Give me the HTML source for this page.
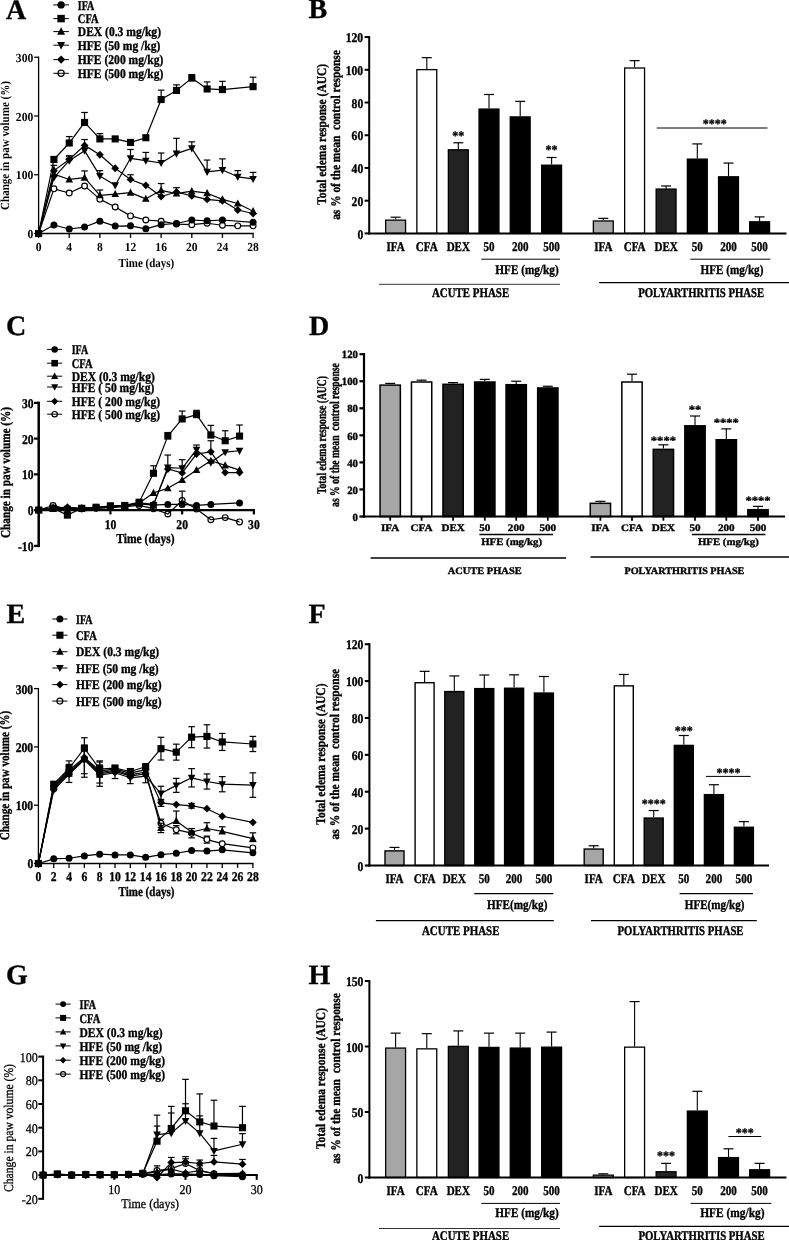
<!DOCTYPE html>
<html><head><meta charset="utf-8"><title>Figure</title>
<style>html,body{margin:0;padding:0;background:#fff}svg{display:block;will-change:transform}</style></head>
<body><svg width="789" height="1240" viewBox="0 0 789 1240" font-family="'Liberation Serif', serif" fill="#000" text-rendering="geometricPrecision">
<rect x="0" y="0" width="789" height="1240" fill="#fff"/>
<line x1="38.60" y1="56.60" x2="38.60" y2="234.15" stroke="#000" stroke-width="1.3" stroke-linecap="butt"/>
<line x1="37.95" y1="233.50" x2="253.73" y2="233.50" stroke="#000" stroke-width="1.3" stroke-linecap="butt"/>
<line x1="34.20" y1="233.50" x2="38.60" y2="233.50" stroke="#000" stroke-width="1.3" stroke-linecap="butt"/>
<line x1="34.20" y1="174.75" x2="38.60" y2="174.75" stroke="#000" stroke-width="1.3" stroke-linecap="butt"/>
<line x1="34.20" y1="116.00" x2="38.60" y2="116.00" stroke="#000" stroke-width="1.3" stroke-linecap="butt"/>
<line x1="34.20" y1="57.25" x2="38.60" y2="57.25" stroke="#000" stroke-width="1.3" stroke-linecap="butt"/>
<line x1="38.60" y1="233.50" x2="38.60" y2="237.90" stroke="#000" stroke-width="1.3" stroke-linecap="butt"/>
<line x1="69.24" y1="233.50" x2="69.24" y2="237.90" stroke="#000" stroke-width="1.3" stroke-linecap="butt"/>
<line x1="99.88" y1="233.50" x2="99.88" y2="237.90" stroke="#000" stroke-width="1.3" stroke-linecap="butt"/>
<line x1="130.52" y1="233.50" x2="130.52" y2="237.90" stroke="#000" stroke-width="1.3" stroke-linecap="butt"/>
<line x1="161.16" y1="233.50" x2="161.16" y2="237.90" stroke="#000" stroke-width="1.3" stroke-linecap="butt"/>
<line x1="191.80" y1="233.50" x2="191.80" y2="237.90" stroke="#000" stroke-width="1.3" stroke-linecap="butt"/>
<line x1="222.44" y1="233.50" x2="222.44" y2="237.90" stroke="#000" stroke-width="1.3" stroke-linecap="butt"/>
<line x1="253.08" y1="233.50" x2="253.08" y2="237.90" stroke="#000" stroke-width="1.3" stroke-linecap="butt"/>
<text x="33.30" y="238.12" font-size="12.3" font-weight="bold" text-anchor="end" textLength="5.8" lengthAdjust="spacingAndGlyphs" >0</text>
<text x="33.30" y="179.37" font-size="12.3" font-weight="bold" text-anchor="end" textLength="17.5" lengthAdjust="spacingAndGlyphs" >100</text>
<text x="33.30" y="120.62" font-size="12.3" font-weight="bold" text-anchor="end" textLength="17.5" lengthAdjust="spacingAndGlyphs" >200</text>
<text x="33.30" y="61.87" font-size="12.3" font-weight="bold" text-anchor="end" textLength="17.5" lengthAdjust="spacingAndGlyphs" >300</text>
<text x="38.60" y="251.02" font-size="12.3" font-weight="bold" text-anchor="middle" textLength="5.8" lengthAdjust="spacingAndGlyphs" >0</text>
<text x="69.24" y="251.02" font-size="12.3" font-weight="bold" text-anchor="middle" textLength="5.8" lengthAdjust="spacingAndGlyphs" >4</text>
<text x="99.88" y="251.02" font-size="12.3" font-weight="bold" text-anchor="middle" textLength="5.8" lengthAdjust="spacingAndGlyphs" >8</text>
<text x="130.52" y="251.02" font-size="12.3" font-weight="bold" text-anchor="middle" textLength="11.6" lengthAdjust="spacingAndGlyphs" >12</text>
<text x="161.16" y="251.02" font-size="12.3" font-weight="bold" text-anchor="middle" textLength="11.6" lengthAdjust="spacingAndGlyphs" >16</text>
<text x="191.80" y="251.02" font-size="12.3" font-weight="bold" text-anchor="middle" textLength="11.6" lengthAdjust="spacingAndGlyphs" >20</text>
<text x="222.44" y="251.02" font-size="12.3" font-weight="bold" text-anchor="middle" textLength="11.6" lengthAdjust="spacingAndGlyphs" >24</text>
<text x="253.08" y="251.02" font-size="12.3" font-weight="bold" text-anchor="middle" textLength="11.6" lengthAdjust="spacingAndGlyphs" >28</text>
<text x="146.40" y="266.55" font-size="12.4" font-weight="bold" text-anchor="middle" textLength="55.8" lengthAdjust="spacingAndGlyphs" >Time (days)</text>
<text x="8.60" y="145.50" font-size="12.4" font-weight="bold" text-anchor="middle" transform="rotate(-90 8.60 145.50)" textLength="129.0" lengthAdjust="spacingAndGlyphs" >Change in paw volume (%)</text>
<text x="6.00" y="19.00" font-size="28" font-weight="bold" text-anchor="start" stroke="#000" stroke-width="0.35" >A</text>
<line x1="53.30" y1="4.90" x2="68.90" y2="4.90" stroke="#000" stroke-width="1.0" stroke-linecap="butt"/>
<circle cx="61.10" cy="4.90" r="3.67" fill="#000"/>
<text x="77.80" y="9.62" font-size="13.2" font-weight="bold" text-anchor="start" stroke="#000" stroke-width="0.35" textLength="16.5" lengthAdjust="spacingAndGlyphs" >IFA</text>
<line x1="53.30" y1="18.60" x2="68.90" y2="18.60" stroke="#000" stroke-width="1.0" stroke-linecap="butt"/>
<rect x="57.37" y="14.87" width="7.45" height="7.45" fill="#000"/>
<text x="77.80" y="23.32" font-size="13.2" font-weight="bold" text-anchor="start" stroke="#000" stroke-width="0.35" textLength="20.8" lengthAdjust="spacingAndGlyphs" >CFA</text>
<line x1="53.30" y1="31.60" x2="68.90" y2="31.60" stroke="#000" stroke-width="1.0" stroke-linecap="butt"/>
<polygon points="61.10,27.28 65.10,34.73 57.10,34.73" fill="#000"/>
<text x="77.80" y="36.32" font-size="13.2" font-weight="bold" text-anchor="start" stroke="#000" stroke-width="0.35" textLength="83.2" lengthAdjust="spacingAndGlyphs" >DEX (0.3 mg/kg)</text>
<line x1="53.30" y1="45.20" x2="68.90" y2="45.20" stroke="#000" stroke-width="1.0" stroke-linecap="butt"/>
<polygon points="61.10,49.52 65.10,42.07 57.10,42.07" fill="#000"/>
<text x="77.80" y="49.92" font-size="13.2" font-weight="bold" text-anchor="start" stroke="#000" stroke-width="0.35" textLength="82.6" lengthAdjust="spacingAndGlyphs" >HFE (50 mg /kg)</text>
<line x1="53.30" y1="59.60" x2="68.90" y2="59.60" stroke="#000" stroke-width="1.0" stroke-linecap="butt"/>
<polygon points="61.10,55.50 65.20,59.60 61.10,63.70 57.00,59.60" fill="#000"/>
<text x="77.80" y="64.32" font-size="13.2" font-weight="bold" text-anchor="start" stroke="#000" stroke-width="0.35" textLength="85.5" lengthAdjust="spacingAndGlyphs" >HFE (200 mg/kg)</text>
<circle cx="61.10" cy="73.30" r="3.08" fill="#fff" stroke="#000" stroke-width="1.2"/>
<line x1="53.30" y1="73.30" x2="68.90" y2="73.30" stroke="#000" stroke-width="1.0" stroke-linecap="butt"/>
<text x="77.80" y="78.02" font-size="13.2" font-weight="bold" text-anchor="start" stroke="#000" stroke-width="0.35" textLength="85.5" lengthAdjust="spacingAndGlyphs" >HFE (500 mg/kg)</text>
<polyline fill="none" stroke="#000" stroke-width="1.2" stroke-linejoin="round" points="38.60,233.50 53.92,188.85 69.24,192.96 84.56,185.91 99.88,199.13 115.20,207.06 130.52,215.88 145.84,219.99 161.16,221.16 176.48,224.10 191.80,224.69 207.12,223.22 222.44,225.28 237.76,225.86 253.08,225.86"/>
<circle cx="38.60" cy="233.50" r="2.88" fill="#fff" stroke="#000" stroke-width="1.2"/>
<circle cx="53.92" cy="188.85" r="2.88" fill="#fff" stroke="#000" stroke-width="1.2"/>
<circle cx="69.24" cy="192.96" r="2.88" fill="#fff" stroke="#000" stroke-width="1.2"/>
<circle cx="84.56" cy="185.91" r="2.88" fill="#fff" stroke="#000" stroke-width="1.2"/>
<circle cx="99.88" cy="199.13" r="2.88" fill="#fff" stroke="#000" stroke-width="1.2"/>
<circle cx="115.20" cy="207.06" r="2.88" fill="#fff" stroke="#000" stroke-width="1.2"/>
<circle cx="130.52" cy="215.88" r="2.88" fill="#fff" stroke="#000" stroke-width="1.2"/>
<circle cx="145.84" cy="219.99" r="2.88" fill="#fff" stroke="#000" stroke-width="1.2"/>
<circle cx="161.16" cy="221.16" r="2.88" fill="#fff" stroke="#000" stroke-width="1.2"/>
<circle cx="176.48" cy="224.10" r="2.88" fill="#fff" stroke="#000" stroke-width="1.2"/>
<circle cx="191.80" cy="224.69" r="2.88" fill="#fff" stroke="#000" stroke-width="1.2"/>
<circle cx="207.12" cy="223.22" r="2.88" fill="#fff" stroke="#000" stroke-width="1.2"/>
<circle cx="222.44" cy="225.28" r="2.88" fill="#fff" stroke="#000" stroke-width="1.2"/>
<circle cx="237.76" cy="225.86" r="2.88" fill="#fff" stroke="#000" stroke-width="1.2"/>
<circle cx="253.08" cy="225.86" r="2.88" fill="#fff" stroke="#000" stroke-width="1.2"/>
<line x1="53.92" y1="170.64" x2="53.92" y2="165.35" stroke="#000" stroke-width="1.2" stroke-linecap="butt"/>
<line x1="50.62" y1="165.35" x2="57.22" y2="165.35" stroke="#000" stroke-width="1.2" stroke-linecap="butt"/>
<line x1="69.24" y1="159.47" x2="69.24" y2="155.95" stroke="#000" stroke-width="1.2" stroke-linecap="butt"/>
<line x1="65.94" y1="155.95" x2="72.54" y2="155.95" stroke="#000" stroke-width="1.2" stroke-linecap="butt"/>
<line x1="84.56" y1="145.38" x2="84.56" y2="139.50" stroke="#000" stroke-width="1.2" stroke-linecap="butt"/>
<line x1="81.26" y1="139.50" x2="87.86" y2="139.50" stroke="#000" stroke-width="1.2" stroke-linecap="butt"/>
<line x1="130.52" y1="179.45" x2="130.52" y2="174.75" stroke="#000" stroke-width="1.2" stroke-linecap="butt"/>
<line x1="127.22" y1="174.75" x2="133.82" y2="174.75" stroke="#000" stroke-width="1.2" stroke-linecap="butt"/>
<polyline fill="none" stroke="#000" stroke-width="1.2" stroke-linejoin="round" points="38.60,233.50 53.92,170.64 69.24,159.47 84.56,145.38 99.88,154.77 115.20,168.29 130.52,179.45 145.84,185.32 161.16,196.49 176.48,192.02 191.80,195.90 207.12,199.43 222.44,200.84 237.76,210.00 253.08,213.53"/>
<polygon points="38.60,229.59 42.51,233.50 38.60,237.41 34.69,233.50" fill="#000"/>
<polygon points="53.92,166.72 57.83,170.64 53.92,174.55 50.01,170.64" fill="#000"/>
<polygon points="69.24,155.56 73.15,159.47 69.24,163.39 65.33,159.47" fill="#000"/>
<polygon points="84.56,141.46 88.47,145.38 84.56,149.29 80.65,145.38" fill="#000"/>
<polygon points="99.88,150.86 103.79,154.77 99.88,158.69 95.97,154.77" fill="#000"/>
<polygon points="115.20,164.37 119.11,168.29 115.20,172.20 111.29,168.29" fill="#000"/>
<polygon points="130.52,175.54 134.43,179.45 130.52,183.36 126.61,179.45" fill="#000"/>
<polygon points="145.84,181.41 149.75,185.32 145.84,189.24 141.93,185.32" fill="#000"/>
<polygon points="161.16,192.57 165.07,196.49 161.16,200.40 157.25,196.49" fill="#000"/>
<polygon points="176.48,188.11 180.39,192.02 176.48,195.94 172.57,192.02" fill="#000"/>
<polygon points="191.80,191.99 195.71,195.90 191.80,199.81 187.89,195.90" fill="#000"/>
<polygon points="207.12,195.51 211.03,199.43 207.12,203.34 203.21,199.43" fill="#000"/>
<polygon points="222.44,196.92 226.35,200.84 222.44,204.75 218.53,200.84" fill="#000"/>
<polygon points="237.76,206.09 241.67,210.00 237.76,213.91 233.85,210.00" fill="#000"/>
<polygon points="253.08,209.61 256.99,213.53 253.08,217.44 249.17,213.53" fill="#000"/>
<line x1="69.24" y1="160.65" x2="69.24" y2="155.95" stroke="#000" stroke-width="1.2" stroke-linecap="butt"/>
<line x1="65.94" y1="155.95" x2="72.54" y2="155.95" stroke="#000" stroke-width="1.2" stroke-linecap="butt"/>
<line x1="99.88" y1="175.93" x2="99.88" y2="170.64" stroke="#000" stroke-width="1.2" stroke-linecap="butt"/>
<line x1="96.58" y1="170.64" x2="103.18" y2="170.64" stroke="#000" stroke-width="1.2" stroke-linecap="butt"/>
<line x1="130.52" y1="158.30" x2="130.52" y2="149.49" stroke="#000" stroke-width="1.2" stroke-linecap="butt"/>
<line x1="127.22" y1="149.49" x2="133.82" y2="149.49" stroke="#000" stroke-width="1.2" stroke-linecap="butt"/>
<line x1="145.84" y1="160.65" x2="145.84" y2="152.43" stroke="#000" stroke-width="1.2" stroke-linecap="butt"/>
<line x1="142.54" y1="152.43" x2="149.14" y2="152.43" stroke="#000" stroke-width="1.2" stroke-linecap="butt"/>
<line x1="161.16" y1="163.00" x2="161.16" y2="153.01" stroke="#000" stroke-width="1.2" stroke-linecap="butt"/>
<line x1="157.86" y1="153.01" x2="164.46" y2="153.01" stroke="#000" stroke-width="1.2" stroke-linecap="butt"/>
<line x1="176.48" y1="153.60" x2="176.48" y2="138.32" stroke="#000" stroke-width="1.2" stroke-linecap="butt"/>
<line x1="173.18" y1="138.32" x2="179.78" y2="138.32" stroke="#000" stroke-width="1.2" stroke-linecap="butt"/>
<line x1="191.80" y1="148.31" x2="191.80" y2="141.85" stroke="#000" stroke-width="1.2" stroke-linecap="butt"/>
<line x1="188.50" y1="141.85" x2="195.10" y2="141.85" stroke="#000" stroke-width="1.2" stroke-linecap="butt"/>
<line x1="207.12" y1="171.81" x2="207.12" y2="160.06" stroke="#000" stroke-width="1.2" stroke-linecap="butt"/>
<line x1="203.82" y1="160.06" x2="210.42" y2="160.06" stroke="#000" stroke-width="1.2" stroke-linecap="butt"/>
<line x1="222.44" y1="170.05" x2="222.44" y2="158.89" stroke="#000" stroke-width="1.2" stroke-linecap="butt"/>
<line x1="219.14" y1="158.89" x2="225.74" y2="158.89" stroke="#000" stroke-width="1.2" stroke-linecap="butt"/>
<line x1="237.76" y1="176.81" x2="237.76" y2="170.64" stroke="#000" stroke-width="1.2" stroke-linecap="butt"/>
<line x1="234.46" y1="170.64" x2="241.06" y2="170.64" stroke="#000" stroke-width="1.2" stroke-linecap="butt"/>
<line x1="253.08" y1="178.86" x2="253.08" y2="172.40" stroke="#000" stroke-width="1.2" stroke-linecap="butt"/>
<line x1="249.78" y1="172.40" x2="256.38" y2="172.40" stroke="#000" stroke-width="1.2" stroke-linecap="butt"/>
<polyline fill="none" stroke="#000" stroke-width="1.2" stroke-linejoin="round" points="38.60,233.50 53.92,177.69 69.24,160.65 84.56,150.66 99.88,175.93 115.20,185.32 130.52,158.30 145.84,160.65 161.16,163.00 176.48,153.60 191.80,148.31 207.12,171.81 222.44,170.05 237.76,176.81 253.08,178.86"/>
<polygon points="38.60,237.62 42.41,230.51 34.79,230.51" fill="#000"/>
<polygon points="53.92,181.81 57.73,174.70 50.11,174.70" fill="#000"/>
<polygon points="69.24,164.77 73.05,157.66 65.43,157.66" fill="#000"/>
<polygon points="84.56,154.78 88.37,147.68 80.75,147.68" fill="#000"/>
<polygon points="99.88,180.05 103.69,172.94 96.07,172.94" fill="#000"/>
<polygon points="115.20,189.44 119.01,182.34 111.39,182.34" fill="#000"/>
<polygon points="130.52,162.42 134.33,155.31 126.71,155.31" fill="#000"/>
<polygon points="145.84,164.77 149.65,157.66 142.03,157.66" fill="#000"/>
<polygon points="161.16,167.12 164.97,160.01 157.35,160.01" fill="#000"/>
<polygon points="176.48,157.72 180.29,150.61 172.67,150.61" fill="#000"/>
<polygon points="191.80,152.43 195.61,145.33 187.99,145.33" fill="#000"/>
<polygon points="207.12,175.93 210.93,168.83 203.31,168.83" fill="#000"/>
<polygon points="222.44,174.17 226.25,167.06 218.63,167.06" fill="#000"/>
<polygon points="237.76,180.93 241.57,173.82 233.95,173.82" fill="#000"/>
<polygon points="253.08,182.98 256.89,175.88 249.27,175.88" fill="#000"/>
<line x1="84.56" y1="177.69" x2="84.56" y2="170.93" stroke="#000" stroke-width="1.2" stroke-linecap="butt"/>
<line x1="81.26" y1="170.93" x2="87.86" y2="170.93" stroke="#000" stroke-width="1.2" stroke-linecap="butt"/>
<line x1="99.88" y1="195.31" x2="99.88" y2="190.03" stroke="#000" stroke-width="1.2" stroke-linecap="butt"/>
<line x1="96.58" y1="190.03" x2="103.18" y2="190.03" stroke="#000" stroke-width="1.2" stroke-linecap="butt"/>
<line x1="161.16" y1="190.32" x2="161.16" y2="183.56" stroke="#000" stroke-width="1.2" stroke-linecap="butt"/>
<line x1="157.86" y1="183.56" x2="164.46" y2="183.56" stroke="#000" stroke-width="1.2" stroke-linecap="butt"/>
<line x1="176.48" y1="193.55" x2="176.48" y2="187.68" stroke="#000" stroke-width="1.2" stroke-linecap="butt"/>
<line x1="173.18" y1="187.68" x2="179.78" y2="187.68" stroke="#000" stroke-width="1.2" stroke-linecap="butt"/>
<polyline fill="none" stroke="#000" stroke-width="1.2" stroke-linejoin="round" points="38.60,233.50 53.92,174.16 69.24,179.45 84.56,177.69 99.88,195.31 115.20,194.14 130.52,192.67 145.84,198.84 161.16,190.32 176.48,193.55 191.80,191.20 207.12,193.20 222.44,199.43 237.76,203.54 253.08,211.18"/>
<polygon points="38.60,229.38 42.41,236.49 34.79,236.49" fill="#000"/>
<polygon points="53.92,170.04 57.73,177.15 50.11,177.15" fill="#000"/>
<polygon points="69.24,175.33 73.05,182.44 65.43,182.44" fill="#000"/>
<polygon points="84.56,173.57 88.37,180.67 80.75,180.67" fill="#000"/>
<polygon points="99.88,191.19 103.69,198.30 96.07,198.30" fill="#000"/>
<polygon points="115.20,190.02 119.01,197.12 111.39,197.12" fill="#000"/>
<polygon points="130.52,188.55 134.33,195.66 126.71,195.66" fill="#000"/>
<polygon points="145.84,194.72 149.65,201.82 142.03,201.82" fill="#000"/>
<polygon points="161.16,186.20 164.97,193.31 157.35,193.31" fill="#000"/>
<polygon points="176.48,189.43 180.29,196.54 172.67,196.54" fill="#000"/>
<polygon points="191.80,187.08 195.61,194.19 187.99,194.19" fill="#000"/>
<polygon points="207.12,189.08 210.93,196.18 203.31,196.18" fill="#000"/>
<polygon points="222.44,195.31 226.25,202.41 218.63,202.41" fill="#000"/>
<polygon points="237.76,199.42 241.57,206.52 233.95,206.52" fill="#000"/>
<polygon points="253.08,207.06 256.89,214.16 249.27,214.16" fill="#000"/>
<line x1="53.92" y1="159.47" x2="53.92" y2="156.54" stroke="#000" stroke-width="1.2" stroke-linecap="butt"/>
<line x1="50.62" y1="156.54" x2="57.22" y2="156.54" stroke="#000" stroke-width="1.2" stroke-linecap="butt"/>
<line x1="69.24" y1="143.02" x2="69.24" y2="136.56" stroke="#000" stroke-width="1.2" stroke-linecap="butt"/>
<line x1="65.94" y1="136.56" x2="72.54" y2="136.56" stroke="#000" stroke-width="1.2" stroke-linecap="butt"/>
<line x1="84.56" y1="122.46" x2="84.56" y2="112.47" stroke="#000" stroke-width="1.2" stroke-linecap="butt"/>
<line x1="81.26" y1="112.47" x2="87.86" y2="112.47" stroke="#000" stroke-width="1.2" stroke-linecap="butt"/>
<line x1="99.88" y1="138.91" x2="99.88" y2="133.62" stroke="#000" stroke-width="1.2" stroke-linecap="butt"/>
<line x1="96.58" y1="133.62" x2="103.18" y2="133.62" stroke="#000" stroke-width="1.2" stroke-linecap="butt"/>
<line x1="161.16" y1="99.55" x2="161.16" y2="90.15" stroke="#000" stroke-width="1.2" stroke-linecap="butt"/>
<line x1="157.86" y1="90.15" x2="164.46" y2="90.15" stroke="#000" stroke-width="1.2" stroke-linecap="butt"/>
<line x1="176.48" y1="90.44" x2="176.48" y2="84.86" stroke="#000" stroke-width="1.2" stroke-linecap="butt"/>
<line x1="173.18" y1="84.86" x2="179.78" y2="84.86" stroke="#000" stroke-width="1.2" stroke-linecap="butt"/>
<line x1="191.80" y1="78.11" x2="191.80" y2="74.58" stroke="#000" stroke-width="1.2" stroke-linecap="butt"/>
<line x1="188.50" y1="74.58" x2="195.10" y2="74.58" stroke="#000" stroke-width="1.2" stroke-linecap="butt"/>
<line x1="207.12" y1="88.97" x2="207.12" y2="81.92" stroke="#000" stroke-width="1.2" stroke-linecap="butt"/>
<line x1="203.82" y1="81.92" x2="210.42" y2="81.92" stroke="#000" stroke-width="1.2" stroke-linecap="butt"/>
<line x1="222.44" y1="89.56" x2="222.44" y2="81.34" stroke="#000" stroke-width="1.2" stroke-linecap="butt"/>
<line x1="219.14" y1="81.34" x2="225.74" y2="81.34" stroke="#000" stroke-width="1.2" stroke-linecap="butt"/>
<line x1="253.08" y1="86.62" x2="253.08" y2="77.22" stroke="#000" stroke-width="1.2" stroke-linecap="butt"/>
<line x1="249.78" y1="77.22" x2="256.38" y2="77.22" stroke="#000" stroke-width="1.2" stroke-linecap="butt"/>
<polyline fill="none" stroke="#000" stroke-width="1.2" stroke-linejoin="round" points="38.60,233.50 53.92,159.47 69.24,143.02 84.56,122.46 99.88,138.91 115.20,138.91 130.52,142.44 145.84,137.74 161.16,99.55 176.48,90.44 191.80,78.11 207.12,88.97 222.44,89.56 253.08,86.62"/>
<rect x="35.05" y="229.95" width="7.11" height="7.11" fill="#000"/>
<rect x="50.37" y="155.92" width="7.11" height="7.11" fill="#000"/>
<rect x="65.69" y="139.47" width="7.11" height="7.11" fill="#000"/>
<rect x="81.01" y="118.91" width="7.11" height="7.11" fill="#000"/>
<rect x="96.33" y="135.36" width="7.11" height="7.11" fill="#000"/>
<rect x="111.65" y="135.36" width="7.11" height="7.11" fill="#000"/>
<rect x="126.97" y="138.88" width="7.11" height="7.11" fill="#000"/>
<rect x="142.29" y="134.18" width="7.11" height="7.11" fill="#000"/>
<rect x="157.61" y="96.00" width="7.11" height="7.11" fill="#000"/>
<rect x="172.93" y="86.89" width="7.11" height="7.11" fill="#000"/>
<rect x="188.25" y="74.55" width="7.11" height="7.11" fill="#000"/>
<rect x="203.57" y="85.42" width="7.11" height="7.11" fill="#000"/>
<rect x="218.89" y="86.01" width="7.11" height="7.11" fill="#000"/>
<rect x="249.53" y="83.07" width="7.11" height="7.11" fill="#000"/>
<polyline fill="none" stroke="#000" stroke-width="1.2" stroke-linejoin="round" points="38.60,233.50 53.92,224.98 69.24,228.98 84.56,227.04 99.88,221.16 115.20,226.10 130.52,225.86 145.84,228.80 161.16,224.69 176.48,223.51 191.80,219.99 207.12,220.81 222.44,219.99 253.08,222.34"/>
<circle cx="38.60" cy="233.50" r="3.50" fill="#000"/>
<circle cx="53.92" cy="224.98" r="3.50" fill="#000"/>
<circle cx="69.24" cy="228.98" r="3.50" fill="#000"/>
<circle cx="84.56" cy="227.04" r="3.50" fill="#000"/>
<circle cx="99.88" cy="221.16" r="3.50" fill="#000"/>
<circle cx="115.20" cy="226.10" r="3.50" fill="#000"/>
<circle cx="130.52" cy="225.86" r="3.50" fill="#000"/>
<circle cx="145.84" cy="228.80" r="3.50" fill="#000"/>
<circle cx="161.16" cy="224.69" r="3.50" fill="#000"/>
<circle cx="176.48" cy="223.51" r="3.50" fill="#000"/>
<circle cx="191.80" cy="219.99" r="3.50" fill="#000"/>
<circle cx="207.12" cy="220.81" r="3.50" fill="#000"/>
<circle cx="222.44" cy="219.99" r="3.50" fill="#000"/>
<circle cx="253.08" cy="222.34" r="3.50" fill="#000"/>
<line x1="38.70" y1="401.60" x2="38.70" y2="547.10" stroke="#000" stroke-width="2.5" stroke-linecap="butt"/>
<line x1="37.45" y1="510.10" x2="254.99" y2="510.10" stroke="#000" stroke-width="2.2" stroke-linecap="butt"/>
<line x1="34.00" y1="545.85" x2="38.70" y2="545.85" stroke="#000" stroke-width="2.2" stroke-linecap="butt"/>
<line x1="34.00" y1="510.10" x2="38.70" y2="510.10" stroke="#000" stroke-width="2.2" stroke-linecap="butt"/>
<line x1="34.00" y1="474.35" x2="38.70" y2="474.35" stroke="#000" stroke-width="2.2" stroke-linecap="butt"/>
<line x1="34.00" y1="438.60" x2="38.70" y2="438.60" stroke="#000" stroke-width="2.2" stroke-linecap="butt"/>
<line x1="34.00" y1="402.85" x2="38.70" y2="402.85" stroke="#000" stroke-width="2.2" stroke-linecap="butt"/>
<line x1="110.43" y1="510.10" x2="110.43" y2="514.40" stroke="#000" stroke-width="2.2" stroke-linecap="butt"/>
<line x1="182.16" y1="510.10" x2="182.16" y2="514.40" stroke="#000" stroke-width="2.2" stroke-linecap="butt"/>
<line x1="253.89" y1="510.10" x2="253.89" y2="514.40" stroke="#000" stroke-width="2.2" stroke-linecap="butt"/>
<text x="33.50" y="550.77" font-size="13.2" font-weight="bold" text-anchor="end" stroke="#000" stroke-width="0.35" textLength="15.5" lengthAdjust="spacingAndGlyphs" >-10</text>
<text x="33.50" y="515.02" font-size="13.2" font-weight="bold" text-anchor="end" stroke="#000" stroke-width="0.35" textLength="5.8" lengthAdjust="spacingAndGlyphs" >0</text>
<text x="33.50" y="479.27" font-size="13.2" font-weight="bold" text-anchor="end" stroke="#000" stroke-width="0.35" textLength="11.6" lengthAdjust="spacingAndGlyphs" >10</text>
<text x="33.50" y="443.52" font-size="13.2" font-weight="bold" text-anchor="end" stroke="#000" stroke-width="0.35" textLength="11.6" lengthAdjust="spacingAndGlyphs" >20</text>
<text x="33.50" y="407.77" font-size="13.2" font-weight="bold" text-anchor="end" stroke="#000" stroke-width="0.35" textLength="11.6" lengthAdjust="spacingAndGlyphs" >30</text>
<text x="110.43" y="528.62" font-size="13.2" font-weight="bold" text-anchor="middle" stroke="#000" stroke-width="0.35" textLength="11.6" lengthAdjust="spacingAndGlyphs" >10</text>
<text x="182.16" y="528.62" font-size="13.2" font-weight="bold" text-anchor="middle" stroke="#000" stroke-width="0.35" textLength="11.6" lengthAdjust="spacingAndGlyphs" >20</text>
<text x="253.89" y="528.62" font-size="13.2" font-weight="bold" text-anchor="middle" stroke="#000" stroke-width="0.35" textLength="11.6" lengthAdjust="spacingAndGlyphs" >30</text>
<text x="145.50" y="543.06" font-size="13.6" font-weight="bold" text-anchor="middle" stroke="#000" stroke-width="0.35" textLength="58.3" lengthAdjust="spacingAndGlyphs" >Time (days)</text>
<text x="10.20" y="472.50" font-size="13.6" font-weight="bold" text-anchor="middle" stroke="#000" stroke-width="0.35" transform="rotate(-90 10.20 472.50)" textLength="131.0" lengthAdjust="spacingAndGlyphs" >Change in paw volume (%)</text>
<text x="6.00" y="334.70" font-size="28" font-weight="bold" text-anchor="start" stroke="#000" stroke-width="0.35" >C</text>
<line x1="47.10" y1="349.40" x2="62.20" y2="349.40" stroke="#000" stroke-width="1.0" stroke-linecap="butt"/>
<circle cx="54.65" cy="349.40" r="3.23" fill="#000"/>
<text x="71.70" y="354.12" font-size="13.2" font-weight="bold" text-anchor="start" stroke="#000" stroke-width="0.35" textLength="16.5" lengthAdjust="spacingAndGlyphs" >IFA</text>
<line x1="47.10" y1="363.20" x2="62.20" y2="363.20" stroke="#000" stroke-width="1.0" stroke-linecap="butt"/>
<rect x="51.37" y="359.92" width="6.55" height="6.55" fill="#000"/>
<text x="71.70" y="367.92" font-size="13.2" font-weight="bold" text-anchor="start" stroke="#000" stroke-width="0.35" textLength="20.8" lengthAdjust="spacingAndGlyphs" >CFA</text>
<line x1="47.10" y1="376.20" x2="62.20" y2="376.20" stroke="#000" stroke-width="1.0" stroke-linecap="butt"/>
<polygon points="54.65,372.40 58.17,378.95 51.14,378.95" fill="#000"/>
<text x="71.70" y="380.92" font-size="13.2" font-weight="bold" text-anchor="start" stroke="#000" stroke-width="0.35" textLength="83.2" lengthAdjust="spacingAndGlyphs" >DEX (0.3 mg/kg)</text>
<line x1="47.10" y1="387.00" x2="62.20" y2="387.00" stroke="#000" stroke-width="1.0" stroke-linecap="butt"/>
<polygon points="54.65,390.80 58.17,384.25 51.14,384.25" fill="#000"/>
<text x="71.70" y="391.72" font-size="13.2" font-weight="bold" text-anchor="start" stroke="#000" stroke-width="0.35" textLength="82.6" lengthAdjust="spacingAndGlyphs" >HFE ( 50 mg/kg)</text>
<line x1="47.10" y1="401.30" x2="62.20" y2="401.30" stroke="#000" stroke-width="1.0" stroke-linecap="butt"/>
<polygon points="54.65,397.69 58.26,401.30 54.65,404.91 51.04,401.30" fill="#000"/>
<text x="71.70" y="406.02" font-size="13.2" font-weight="bold" text-anchor="start" stroke="#000" stroke-width="0.35" textLength="88.4" lengthAdjust="spacingAndGlyphs" >HFE ( 200 mg/kg)</text>
<circle cx="54.65" cy="414.20" r="2.71" fill="#fff" stroke="#000" stroke-width="1.2"/>
<line x1="47.10" y1="414.20" x2="62.20" y2="414.20" stroke="#000" stroke-width="1.0" stroke-linecap="butt"/>
<text x="71.70" y="418.92" font-size="13.2" font-weight="bold" text-anchor="start" stroke="#000" stroke-width="0.35" textLength="88.4" lengthAdjust="spacingAndGlyphs" >HFE ( 500 mg/kg)</text>
<line x1="182.16" y1="500.45" x2="182.16" y2="491.15" stroke="#000" stroke-width="1.2" stroke-linecap="butt"/>
<line x1="178.86" y1="491.15" x2="185.46" y2="491.15" stroke="#000" stroke-width="1.2" stroke-linecap="butt"/>
<polyline fill="none" stroke="#000" stroke-width="1.2" stroke-linejoin="round" points="38.70,510.10 53.05,505.45 67.39,509.39 81.74,508.67 96.08,508.31 110.43,507.60 124.78,506.53 139.12,505.45 153.47,508.67 167.81,514.03 182.16,500.45 196.51,509.03 210.85,519.75 225.20,517.61 239.54,521.90"/>
<circle cx="38.70" cy="510.10" r="2.88" fill="none" stroke="#000" stroke-width="1.2"/>
<circle cx="53.05" cy="505.45" r="2.88" fill="none" stroke="#000" stroke-width="1.2"/>
<circle cx="67.39" cy="509.39" r="2.88" fill="none" stroke="#000" stroke-width="1.2"/>
<circle cx="81.74" cy="508.67" r="2.88" fill="none" stroke="#000" stroke-width="1.2"/>
<circle cx="96.08" cy="508.31" r="2.88" fill="none" stroke="#000" stroke-width="1.2"/>
<circle cx="110.43" cy="507.60" r="2.88" fill="none" stroke="#000" stroke-width="1.2"/>
<circle cx="124.78" cy="506.53" r="2.88" fill="none" stroke="#000" stroke-width="1.2"/>
<circle cx="139.12" cy="505.45" r="2.88" fill="none" stroke="#000" stroke-width="1.2"/>
<circle cx="153.47" cy="508.67" r="2.88" fill="none" stroke="#000" stroke-width="1.2"/>
<circle cx="167.81" cy="514.03" r="2.88" fill="none" stroke="#000" stroke-width="1.2"/>
<circle cx="182.16" cy="500.45" r="2.88" fill="none" stroke="#000" stroke-width="1.2"/>
<circle cx="196.51" cy="509.03" r="2.88" fill="none" stroke="#000" stroke-width="1.2"/>
<circle cx="210.85" cy="519.75" r="2.88" fill="none" stroke="#000" stroke-width="1.2"/>
<circle cx="225.20" cy="517.61" r="2.88" fill="none" stroke="#000" stroke-width="1.2"/>
<circle cx="239.54" cy="521.90" r="2.88" fill="none" stroke="#000" stroke-width="1.2"/>
<line x1="210.85" y1="451.83" x2="210.85" y2="440.75" stroke="#000" stroke-width="1.2" stroke-linecap="butt"/>
<line x1="207.55" y1="440.75" x2="214.15" y2="440.75" stroke="#000" stroke-width="1.2" stroke-linecap="butt"/>
<polyline fill="none" stroke="#000" stroke-width="1.2" stroke-linejoin="round" points="38.70,510.10 53.05,507.96 67.39,507.24 81.74,508.31 96.08,507.96 110.43,507.24 124.78,505.81 139.12,502.95 153.47,504.38 167.81,468.99 182.16,472.92 196.51,453.97 210.85,451.83 225.20,472.56 239.54,472.56"/>
<polygon points="38.70,506.19 42.61,510.10 38.70,514.01 34.79,510.10" fill="#000"/>
<polygon points="53.05,504.04 56.96,507.96 53.05,511.87 49.13,507.96" fill="#000"/>
<polygon points="67.39,503.33 71.31,507.24 67.39,511.15 63.48,507.24" fill="#000"/>
<polygon points="81.74,504.40 85.65,508.31 81.74,512.23 77.82,508.31" fill="#000"/>
<polygon points="96.08,504.04 100.00,507.96 96.08,511.87 92.17,507.96" fill="#000"/>
<polygon points="110.43,503.33 114.34,507.24 110.43,511.15 106.52,507.24" fill="#000"/>
<polygon points="124.78,501.90 128.69,505.81 124.78,509.72 120.86,505.81" fill="#000"/>
<polygon points="139.12,499.04 143.04,502.95 139.12,506.86 135.21,502.95" fill="#000"/>
<polygon points="153.47,500.47 157.38,504.38 153.47,508.29 149.55,504.38" fill="#000"/>
<polygon points="167.81,465.07 171.73,468.99 167.81,472.90 163.90,468.99" fill="#000"/>
<polygon points="182.16,469.01 186.07,472.92 182.16,476.83 178.25,472.92" fill="#000"/>
<polygon points="196.51,450.06 200.42,453.97 196.51,457.89 192.59,453.97" fill="#000"/>
<polygon points="210.85,447.91 214.77,451.83 210.85,455.74 206.94,451.83" fill="#000"/>
<polygon points="225.20,468.65 229.11,472.56 225.20,476.48 221.28,472.56" fill="#000"/>
<polygon points="239.54,468.65 243.46,472.56 239.54,476.48 235.63,472.56" fill="#000"/>
<line x1="167.81" y1="467.56" x2="167.81" y2="455.05" stroke="#000" stroke-width="1.2" stroke-linecap="butt"/>
<line x1="164.51" y1="455.05" x2="171.11" y2="455.05" stroke="#000" stroke-width="1.2" stroke-linecap="butt"/>
<line x1="182.16" y1="468.27" x2="182.16" y2="459.69" stroke="#000" stroke-width="1.2" stroke-linecap="butt"/>
<line x1="178.86" y1="459.69" x2="185.46" y2="459.69" stroke="#000" stroke-width="1.2" stroke-linecap="butt"/>
<line x1="196.51" y1="449.68" x2="196.51" y2="445.04" stroke="#000" stroke-width="1.2" stroke-linecap="butt"/>
<line x1="193.21" y1="445.04" x2="199.81" y2="445.04" stroke="#000" stroke-width="1.2" stroke-linecap="butt"/>
<polyline fill="none" stroke="#000" stroke-width="1.2" stroke-linejoin="round" points="38.70,510.10 53.05,508.31 67.39,508.67 81.74,508.67 96.08,507.96 110.43,506.53 124.78,505.81 139.12,502.95 153.47,505.10 167.81,467.56 182.16,468.27 196.51,449.68 210.85,462.55 225.20,452.19 239.54,450.75"/>
<polygon points="38.70,514.22 42.51,507.11 34.89,507.11" fill="#000"/>
<polygon points="53.05,512.43 56.86,505.33 49.24,505.33" fill="#000"/>
<polygon points="67.39,512.79 71.20,505.68 63.58,505.68" fill="#000"/>
<polygon points="81.74,512.79 85.55,505.68 77.93,505.68" fill="#000"/>
<polygon points="96.08,512.08 99.90,504.97 92.27,504.97" fill="#000"/>
<polygon points="110.43,510.65 114.24,503.54 106.62,503.54" fill="#000"/>
<polygon points="124.78,509.93 128.59,502.82 120.96,502.82" fill="#000"/>
<polygon points="139.12,507.07 142.93,499.96 135.31,499.96" fill="#000"/>
<polygon points="153.47,509.22 157.28,502.11 149.66,502.11" fill="#000"/>
<polygon points="167.81,471.68 171.63,464.57 164.00,464.57" fill="#000"/>
<polygon points="182.16,472.39 185.97,465.29 178.35,465.29" fill="#000"/>
<polygon points="196.51,453.80 200.32,446.70 192.70,446.70" fill="#000"/>
<polygon points="210.85,466.67 214.66,459.57 207.04,459.57" fill="#000"/>
<polygon points="225.20,456.31 229.01,449.20 221.39,449.20" fill="#000"/>
<polygon points="239.54,454.88 243.35,447.77 235.73,447.77" fill="#000"/>
<polyline fill="none" stroke="#000" stroke-width="1.2" stroke-linejoin="round" points="38.70,510.10 53.05,508.67 67.39,507.96 81.74,508.31 96.08,507.60 110.43,506.88 124.78,505.81 139.12,502.95 153.47,492.94 167.81,488.29 182.16,480.07 196.51,470.06 210.85,460.76 225.20,465.41 239.54,470.06"/>
<polygon points="38.70,505.98 42.51,513.09 34.89,513.09" fill="#000"/>
<polygon points="53.05,504.55 56.86,511.66 49.24,511.66" fill="#000"/>
<polygon points="67.39,503.84 71.20,510.94 63.58,510.94" fill="#000"/>
<polygon points="81.74,504.19 85.55,511.30 77.93,511.30" fill="#000"/>
<polygon points="96.08,503.48 99.90,510.58 92.27,510.58" fill="#000"/>
<polygon points="110.43,502.76 114.24,509.87 106.62,509.87" fill="#000"/>
<polygon points="124.78,501.69 128.59,508.80 120.96,508.80" fill="#000"/>
<polygon points="139.12,498.83 142.93,505.94 135.31,505.94" fill="#000"/>
<polygon points="153.47,488.82 157.28,495.93 149.66,495.93" fill="#000"/>
<polygon points="167.81,484.17 171.63,491.28 164.00,491.28" fill="#000"/>
<polygon points="182.16,475.95 185.97,483.06 178.35,483.06" fill="#000"/>
<polygon points="196.51,465.94 200.32,473.05 192.70,473.05" fill="#000"/>
<polygon points="210.85,456.64 214.66,463.75 207.04,463.75" fill="#000"/>
<polygon points="225.20,461.29 229.01,468.40 221.39,468.40" fill="#000"/>
<polygon points="239.54,465.94 243.35,473.05 235.73,473.05" fill="#000"/>
<line x1="153.47" y1="473.28" x2="153.47" y2="465.77" stroke="#000" stroke-width="1.2" stroke-linecap="butt"/>
<line x1="150.17" y1="465.77" x2="156.77" y2="465.77" stroke="#000" stroke-width="1.2" stroke-linecap="butt"/>
<line x1="167.81" y1="436.10" x2="167.81" y2="432.52" stroke="#000" stroke-width="1.2" stroke-linecap="butt"/>
<line x1="164.51" y1="432.52" x2="171.11" y2="432.52" stroke="#000" stroke-width="1.2" stroke-linecap="butt"/>
<line x1="182.16" y1="418.94" x2="182.16" y2="411.07" stroke="#000" stroke-width="1.2" stroke-linecap="butt"/>
<line x1="178.86" y1="411.07" x2="185.46" y2="411.07" stroke="#000" stroke-width="1.2" stroke-linecap="butt"/>
<line x1="196.51" y1="414.65" x2="196.51" y2="410.36" stroke="#000" stroke-width="1.2" stroke-linecap="butt"/>
<line x1="193.21" y1="410.36" x2="199.81" y2="410.36" stroke="#000" stroke-width="1.2" stroke-linecap="butt"/>
<line x1="210.85" y1="435.03" x2="210.85" y2="425.37" stroke="#000" stroke-width="1.2" stroke-linecap="butt"/>
<line x1="207.55" y1="425.37" x2="214.15" y2="425.37" stroke="#000" stroke-width="1.2" stroke-linecap="butt"/>
<line x1="225.20" y1="440.75" x2="225.20" y2="430.74" stroke="#000" stroke-width="1.2" stroke-linecap="butt"/>
<line x1="221.90" y1="430.74" x2="228.50" y2="430.74" stroke="#000" stroke-width="1.2" stroke-linecap="butt"/>
<line x1="239.54" y1="436.10" x2="239.54" y2="425.01" stroke="#000" stroke-width="1.2" stroke-linecap="butt"/>
<line x1="236.24" y1="425.01" x2="242.84" y2="425.01" stroke="#000" stroke-width="1.2" stroke-linecap="butt"/>
<polyline fill="none" stroke="#000" stroke-width="1.2" stroke-linejoin="round" points="38.70,510.10 53.05,508.31 67.39,515.11 81.74,508.31 96.08,507.24 110.43,505.81 124.78,505.45 139.12,502.24 153.47,473.28 167.81,436.10 182.16,418.94 196.51,414.65 210.85,435.03 225.20,440.75 239.54,436.10"/>
<rect x="35.15" y="506.55" width="7.11" height="7.11" fill="#000"/>
<rect x="49.49" y="504.76" width="7.11" height="7.11" fill="#000"/>
<rect x="63.84" y="511.55" width="7.11" height="7.11" fill="#000"/>
<rect x="78.18" y="504.76" width="7.11" height="7.11" fill="#000"/>
<rect x="92.53" y="503.69" width="7.11" height="7.11" fill="#000"/>
<rect x="106.88" y="502.26" width="7.11" height="7.11" fill="#000"/>
<rect x="121.22" y="501.90" width="7.11" height="7.11" fill="#000"/>
<rect x="135.57" y="498.68" width="7.11" height="7.11" fill="#000"/>
<rect x="149.91" y="469.72" width="7.11" height="7.11" fill="#000"/>
<rect x="164.26" y="432.54" width="7.11" height="7.11" fill="#000"/>
<rect x="178.61" y="415.38" width="7.11" height="7.11" fill="#000"/>
<rect x="192.95" y="411.09" width="7.11" height="7.11" fill="#000"/>
<rect x="207.30" y="431.47" width="7.11" height="7.11" fill="#000"/>
<rect x="221.64" y="437.19" width="7.11" height="7.11" fill="#000"/>
<rect x="235.99" y="432.54" width="7.11" height="7.11" fill="#000"/>
<polyline fill="none" stroke="#000" stroke-width="1.2" stroke-linejoin="round" points="38.70,510.10 53.05,507.96 67.39,509.03 81.74,508.31 96.08,507.60 110.43,506.88 124.78,506.17 139.12,503.84 153.47,505.10 167.81,504.38 182.16,504.38 196.51,505.45 210.85,504.38 239.54,502.95"/>
<circle cx="38.70" cy="510.10" r="3.50" fill="#000"/>
<circle cx="53.05" cy="507.96" r="3.50" fill="#000"/>
<circle cx="67.39" cy="509.03" r="3.50" fill="#000"/>
<circle cx="81.74" cy="508.31" r="3.50" fill="#000"/>
<circle cx="96.08" cy="507.60" r="3.50" fill="#000"/>
<circle cx="110.43" cy="506.88" r="3.50" fill="#000"/>
<circle cx="124.78" cy="506.17" r="3.50" fill="#000"/>
<circle cx="139.12" cy="503.84" r="3.50" fill="#000"/>
<circle cx="153.47" cy="505.10" r="3.50" fill="#000"/>
<circle cx="167.81" cy="504.38" r="3.50" fill="#000"/>
<circle cx="182.16" cy="504.38" r="3.50" fill="#000"/>
<circle cx="196.51" cy="505.45" r="3.50" fill="#000"/>
<circle cx="210.85" cy="504.38" r="3.50" fill="#000"/>
<circle cx="239.54" cy="502.95" r="3.50" fill="#000"/>
<line x1="38.40" y1="687.95" x2="38.40" y2="864.15" stroke="#000" stroke-width="1.3" stroke-linecap="butt"/>
<line x1="37.75" y1="863.50" x2="253.53" y2="863.50" stroke="#000" stroke-width="1.3" stroke-linecap="butt"/>
<line x1="34.00" y1="863.50" x2="38.40" y2="863.50" stroke="#000" stroke-width="1.3" stroke-linecap="butt"/>
<line x1="34.00" y1="805.20" x2="38.40" y2="805.20" stroke="#000" stroke-width="1.3" stroke-linecap="butt"/>
<line x1="34.00" y1="746.90" x2="38.40" y2="746.90" stroke="#000" stroke-width="1.3" stroke-linecap="butt"/>
<line x1="34.00" y1="688.60" x2="38.40" y2="688.60" stroke="#000" stroke-width="1.3" stroke-linecap="butt"/>
<line x1="38.40" y1="863.50" x2="38.40" y2="867.90" stroke="#000" stroke-width="1.3" stroke-linecap="butt"/>
<line x1="53.72" y1="863.50" x2="53.72" y2="867.90" stroke="#000" stroke-width="1.3" stroke-linecap="butt"/>
<line x1="69.04" y1="863.50" x2="69.04" y2="867.90" stroke="#000" stroke-width="1.3" stroke-linecap="butt"/>
<line x1="84.36" y1="863.50" x2="84.36" y2="867.90" stroke="#000" stroke-width="1.3" stroke-linecap="butt"/>
<line x1="99.68" y1="863.50" x2="99.68" y2="867.90" stroke="#000" stroke-width="1.3" stroke-linecap="butt"/>
<line x1="115.00" y1="863.50" x2="115.00" y2="867.90" stroke="#000" stroke-width="1.3" stroke-linecap="butt"/>
<line x1="130.32" y1="863.50" x2="130.32" y2="867.90" stroke="#000" stroke-width="1.3" stroke-linecap="butt"/>
<line x1="145.64" y1="863.50" x2="145.64" y2="867.90" stroke="#000" stroke-width="1.3" stroke-linecap="butt"/>
<line x1="160.96" y1="863.50" x2="160.96" y2="867.90" stroke="#000" stroke-width="1.3" stroke-linecap="butt"/>
<line x1="176.28" y1="863.50" x2="176.28" y2="867.90" stroke="#000" stroke-width="1.3" stroke-linecap="butt"/>
<line x1="191.60" y1="863.50" x2="191.60" y2="867.90" stroke="#000" stroke-width="1.3" stroke-linecap="butt"/>
<line x1="206.92" y1="863.50" x2="206.92" y2="867.90" stroke="#000" stroke-width="1.3" stroke-linecap="butt"/>
<line x1="222.24" y1="863.50" x2="222.24" y2="867.90" stroke="#000" stroke-width="1.3" stroke-linecap="butt"/>
<line x1="237.56" y1="863.50" x2="237.56" y2="867.90" stroke="#000" stroke-width="1.3" stroke-linecap="butt"/>
<line x1="252.88" y1="863.50" x2="252.88" y2="867.90" stroke="#000" stroke-width="1.3" stroke-linecap="butt"/>
<text x="33.20" y="868.42" font-size="13.2" font-weight="bold" text-anchor="end" stroke="#000" stroke-width="0.35" textLength="5.8" lengthAdjust="spacingAndGlyphs" >0</text>
<text x="33.20" y="810.12" font-size="13.2" font-weight="bold" text-anchor="end" stroke="#000" stroke-width="0.35" textLength="17.5" lengthAdjust="spacingAndGlyphs" >100</text>
<text x="33.20" y="751.82" font-size="13.2" font-weight="bold" text-anchor="end" stroke="#000" stroke-width="0.35" textLength="17.5" lengthAdjust="spacingAndGlyphs" >200</text>
<text x="33.20" y="693.52" font-size="13.2" font-weight="bold" text-anchor="end" stroke="#000" stroke-width="0.35" textLength="17.5" lengthAdjust="spacingAndGlyphs" >300</text>
<text x="38.40" y="881.22" font-size="13.2" font-weight="bold" text-anchor="middle" stroke="#000" stroke-width="0.35" textLength="5.8" lengthAdjust="spacingAndGlyphs" >0</text>
<text x="53.72" y="881.22" font-size="13.2" font-weight="bold" text-anchor="middle" stroke="#000" stroke-width="0.35" textLength="5.8" lengthAdjust="spacingAndGlyphs" >2</text>
<text x="69.04" y="881.22" font-size="13.2" font-weight="bold" text-anchor="middle" stroke="#000" stroke-width="0.35" textLength="5.8" lengthAdjust="spacingAndGlyphs" >4</text>
<text x="84.36" y="881.22" font-size="13.2" font-weight="bold" text-anchor="middle" stroke="#000" stroke-width="0.35" textLength="5.8" lengthAdjust="spacingAndGlyphs" >6</text>
<text x="99.68" y="881.22" font-size="13.2" font-weight="bold" text-anchor="middle" stroke="#000" stroke-width="0.35" textLength="5.8" lengthAdjust="spacingAndGlyphs" >8</text>
<text x="115.00" y="881.22" font-size="13.2" font-weight="bold" text-anchor="middle" stroke="#000" stroke-width="0.35" textLength="11.6" lengthAdjust="spacingAndGlyphs" >10</text>
<text x="130.32" y="881.22" font-size="13.2" font-weight="bold" text-anchor="middle" stroke="#000" stroke-width="0.35" textLength="11.6" lengthAdjust="spacingAndGlyphs" >12</text>
<text x="145.64" y="881.22" font-size="13.2" font-weight="bold" text-anchor="middle" stroke="#000" stroke-width="0.35" textLength="11.6" lengthAdjust="spacingAndGlyphs" >14</text>
<text x="160.96" y="881.22" font-size="13.2" font-weight="bold" text-anchor="middle" stroke="#000" stroke-width="0.35" textLength="11.6" lengthAdjust="spacingAndGlyphs" >16</text>
<text x="176.28" y="881.22" font-size="13.2" font-weight="bold" text-anchor="middle" stroke="#000" stroke-width="0.35" textLength="11.6" lengthAdjust="spacingAndGlyphs" >18</text>
<text x="191.60" y="881.22" font-size="13.2" font-weight="bold" text-anchor="middle" stroke="#000" stroke-width="0.35" textLength="11.6" lengthAdjust="spacingAndGlyphs" >20</text>
<text x="206.92" y="881.22" font-size="13.2" font-weight="bold" text-anchor="middle" stroke="#000" stroke-width="0.35" textLength="11.6" lengthAdjust="spacingAndGlyphs" >22</text>
<text x="222.24" y="881.22" font-size="13.2" font-weight="bold" text-anchor="middle" stroke="#000" stroke-width="0.35" textLength="11.6" lengthAdjust="spacingAndGlyphs" >24</text>
<text x="237.56" y="881.22" font-size="13.2" font-weight="bold" text-anchor="middle" stroke="#000" stroke-width="0.35" textLength="11.6" lengthAdjust="spacingAndGlyphs" >26</text>
<text x="252.88" y="881.22" font-size="13.2" font-weight="bold" text-anchor="middle" stroke="#000" stroke-width="0.35" textLength="11.6" lengthAdjust="spacingAndGlyphs" >28</text>
<text x="146.50" y="895.99" font-size="13.4" font-weight="bold" text-anchor="middle" stroke="#000" stroke-width="0.35" textLength="55.8" lengthAdjust="spacingAndGlyphs" >Time (days)</text>
<text x="8.70" y="775.50" font-size="13.4" font-weight="bold" text-anchor="middle" stroke="#000" stroke-width="0.35" transform="rotate(-90 8.70 775.50)" textLength="129.5" lengthAdjust="spacingAndGlyphs" >Change in paw volume (%)</text>
<text x="6.50" y="622.80" font-size="28" font-weight="bold" text-anchor="start" stroke="#000" stroke-width="0.35" >E</text>
<line x1="52.30" y1="619.00" x2="67.50" y2="619.00" stroke="#000" stroke-width="1.0" stroke-linecap="butt"/>
<circle cx="59.90" cy="619.00" r="3.50" fill="#000"/>
<text x="76.00" y="623.72" font-size="13.2" font-weight="bold" text-anchor="start" stroke="#000" stroke-width="0.35" textLength="16.5" lengthAdjust="spacingAndGlyphs" >IFA</text>
<line x1="52.30" y1="635.20" x2="67.50" y2="635.20" stroke="#000" stroke-width="1.0" stroke-linecap="butt"/>
<rect x="56.35" y="631.65" width="7.11" height="7.11" fill="#000"/>
<text x="76.00" y="639.92" font-size="13.2" font-weight="bold" text-anchor="start" stroke="#000" stroke-width="0.35" textLength="20.8" lengthAdjust="spacingAndGlyphs" >CFA</text>
<line x1="52.30" y1="651.70" x2="67.50" y2="651.70" stroke="#000" stroke-width="1.0" stroke-linecap="butt"/>
<polygon points="59.90,647.58 63.71,654.69 56.09,654.69" fill="#000"/>
<text x="76.00" y="656.42" font-size="13.2" font-weight="bold" text-anchor="start" stroke="#000" stroke-width="0.35" textLength="83.2" lengthAdjust="spacingAndGlyphs" >DEX (0.3 mg/kg)</text>
<line x1="52.30" y1="668.00" x2="67.50" y2="668.00" stroke="#000" stroke-width="1.0" stroke-linecap="butt"/>
<polygon points="59.90,672.12 63.71,665.01 56.09,665.01" fill="#000"/>
<text x="76.00" y="672.72" font-size="13.2" font-weight="bold" text-anchor="start" stroke="#000" stroke-width="0.35" textLength="82.6" lengthAdjust="spacingAndGlyphs" >HFE (50 mg /kg)</text>
<line x1="52.30" y1="684.60" x2="67.50" y2="684.60" stroke="#000" stroke-width="1.0" stroke-linecap="butt"/>
<polygon points="59.90,680.69 63.81,684.60 59.90,688.51 55.99,684.60" fill="#000"/>
<text x="76.00" y="689.32" font-size="13.2" font-weight="bold" text-anchor="start" stroke="#000" stroke-width="0.35" textLength="85.5" lengthAdjust="spacingAndGlyphs" >HFE (200 mg/kg)</text>
<circle cx="59.90" cy="701.10" r="2.94" fill="#fff" stroke="#000" stroke-width="1.2"/>
<line x1="52.30" y1="701.10" x2="67.50" y2="701.10" stroke="#000" stroke-width="1.0" stroke-linecap="butt"/>
<text x="76.00" y="705.82" font-size="13.2" font-weight="bold" text-anchor="start" stroke="#000" stroke-width="0.35" textLength="85.5" lengthAdjust="spacingAndGlyphs" >HFE (500 mg/kg)</text>
<line x1="84.36" y1="759.14" x2="84.36" y2="745.15" stroke="#000" stroke-width="1.2" stroke-linecap="butt"/>
<line x1="81.06" y1="745.15" x2="87.66" y2="745.15" stroke="#000" stroke-width="1.2" stroke-linecap="butt"/>
<line x1="160.96" y1="823.27" x2="160.96" y2="819.19" stroke="#000" stroke-width="1.2" stroke-linecap="butt"/>
<line x1="157.66" y1="819.19" x2="164.26" y2="819.19" stroke="#000" stroke-width="1.2" stroke-linecap="butt"/>
<line x1="176.28" y1="829.69" x2="176.28" y2="825.61" stroke="#000" stroke-width="1.2" stroke-linecap="butt"/>
<line x1="172.98" y1="825.61" x2="179.58" y2="825.61" stroke="#000" stroke-width="1.2" stroke-linecap="butt"/>
<line x1="191.60" y1="833.18" x2="191.60" y2="828.52" stroke="#000" stroke-width="1.2" stroke-linecap="butt"/>
<line x1="188.30" y1="828.52" x2="194.90" y2="828.52" stroke="#000" stroke-width="1.2" stroke-linecap="butt"/>
<line x1="206.92" y1="839.60" x2="206.92" y2="836.10" stroke="#000" stroke-width="1.2" stroke-linecap="butt"/>
<line x1="203.62" y1="836.10" x2="210.22" y2="836.10" stroke="#000" stroke-width="1.2" stroke-linecap="butt"/>
<line x1="84.36" y1="759.14" x2="84.36" y2="773.72" stroke="#000" stroke-width="1.2" stroke-linecap="butt"/>
<line x1="81.06" y1="773.72" x2="87.66" y2="773.72" stroke="#000" stroke-width="1.2" stroke-linecap="butt"/>
<line x1="160.96" y1="823.27" x2="160.96" y2="827.35" stroke="#000" stroke-width="1.2" stroke-linecap="butt"/>
<line x1="157.66" y1="827.35" x2="164.26" y2="827.35" stroke="#000" stroke-width="1.2" stroke-linecap="butt"/>
<line x1="176.28" y1="829.69" x2="176.28" y2="833.77" stroke="#000" stroke-width="1.2" stroke-linecap="butt"/>
<line x1="172.98" y1="833.77" x2="179.58" y2="833.77" stroke="#000" stroke-width="1.2" stroke-linecap="butt"/>
<line x1="191.60" y1="833.18" x2="191.60" y2="837.85" stroke="#000" stroke-width="1.2" stroke-linecap="butt"/>
<line x1="188.30" y1="837.85" x2="194.90" y2="837.85" stroke="#000" stroke-width="1.2" stroke-linecap="butt"/>
<line x1="206.92" y1="839.60" x2="206.92" y2="843.10" stroke="#000" stroke-width="1.2" stroke-linecap="butt"/>
<line x1="203.62" y1="843.10" x2="210.22" y2="843.10" stroke="#000" stroke-width="1.2" stroke-linecap="butt"/>
<polyline fill="none" stroke="#000" stroke-width="1.2" stroke-linejoin="round" points="38.40,863.50 53.72,788.88 69.04,773.13 84.36,759.14 99.68,773.72 115.00,771.39 130.32,776.05 145.64,773.72 160.96,823.27 176.28,829.69 191.60,833.18 206.92,839.60 222.24,843.68 252.88,847.88"/>
<circle cx="38.40" cy="863.50" r="2.88" fill="#fff" stroke="#000" stroke-width="1.2"/>
<circle cx="53.72" cy="788.88" r="2.88" fill="#fff" stroke="#000" stroke-width="1.2"/>
<circle cx="69.04" cy="773.13" r="2.88" fill="#fff" stroke="#000" stroke-width="1.2"/>
<circle cx="84.36" cy="759.14" r="2.88" fill="#fff" stroke="#000" stroke-width="1.2"/>
<circle cx="99.68" cy="773.72" r="2.88" fill="#fff" stroke="#000" stroke-width="1.2"/>
<circle cx="115.00" cy="771.39" r="2.88" fill="#fff" stroke="#000" stroke-width="1.2"/>
<circle cx="130.32" cy="776.05" r="2.88" fill="#fff" stroke="#000" stroke-width="1.2"/>
<circle cx="145.64" cy="773.72" r="2.88" fill="#fff" stroke="#000" stroke-width="1.2"/>
<circle cx="160.96" cy="823.27" r="2.88" fill="#fff" stroke="#000" stroke-width="1.2"/>
<circle cx="176.28" cy="829.69" r="2.88" fill="#fff" stroke="#000" stroke-width="1.2"/>
<circle cx="191.60" cy="833.18" r="2.88" fill="#fff" stroke="#000" stroke-width="1.2"/>
<circle cx="206.92" cy="839.60" r="2.88" fill="#fff" stroke="#000" stroke-width="1.2"/>
<circle cx="222.24" cy="843.68" r="2.88" fill="#fff" stroke="#000" stroke-width="1.2"/>
<circle cx="252.88" cy="847.88" r="2.88" fill="#fff" stroke="#000" stroke-width="1.2"/>
<line x1="69.04" y1="770.22" x2="69.04" y2="764.39" stroke="#000" stroke-width="1.2" stroke-linecap="butt"/>
<line x1="65.74" y1="764.39" x2="72.34" y2="764.39" stroke="#000" stroke-width="1.2" stroke-linecap="butt"/>
<line x1="99.68" y1="770.80" x2="99.68" y2="764.97" stroke="#000" stroke-width="1.2" stroke-linecap="butt"/>
<line x1="96.38" y1="764.97" x2="102.98" y2="764.97" stroke="#000" stroke-width="1.2" stroke-linecap="butt"/>
<line x1="160.96" y1="802.87" x2="160.96" y2="799.37" stroke="#000" stroke-width="1.2" stroke-linecap="butt"/>
<line x1="157.66" y1="799.37" x2="164.26" y2="799.37" stroke="#000" stroke-width="1.2" stroke-linecap="butt"/>
<line x1="191.60" y1="805.78" x2="191.60" y2="803.45" stroke="#000" stroke-width="1.2" stroke-linecap="butt"/>
<line x1="188.30" y1="803.45" x2="194.90" y2="803.45" stroke="#000" stroke-width="1.2" stroke-linecap="butt"/>
<line x1="69.04" y1="770.22" x2="69.04" y2="776.05" stroke="#000" stroke-width="1.2" stroke-linecap="butt"/>
<line x1="65.74" y1="776.05" x2="72.34" y2="776.05" stroke="#000" stroke-width="1.2" stroke-linecap="butt"/>
<line x1="99.68" y1="770.80" x2="99.68" y2="776.63" stroke="#000" stroke-width="1.2" stroke-linecap="butt"/>
<line x1="96.38" y1="776.63" x2="102.98" y2="776.63" stroke="#000" stroke-width="1.2" stroke-linecap="butt"/>
<line x1="160.96" y1="802.87" x2="160.96" y2="806.37" stroke="#000" stroke-width="1.2" stroke-linecap="butt"/>
<line x1="157.66" y1="806.37" x2="164.26" y2="806.37" stroke="#000" stroke-width="1.2" stroke-linecap="butt"/>
<line x1="191.60" y1="805.78" x2="191.60" y2="808.12" stroke="#000" stroke-width="1.2" stroke-linecap="butt"/>
<line x1="188.30" y1="808.12" x2="194.90" y2="808.12" stroke="#000" stroke-width="1.2" stroke-linecap="butt"/>
<polyline fill="none" stroke="#000" stroke-width="1.2" stroke-linejoin="round" points="38.40,863.50 53.72,785.96 69.04,770.22 84.36,757.39 99.68,770.80 115.00,769.05 130.32,773.13 145.64,769.64 160.96,802.87 176.28,804.62 191.60,805.78 206.92,808.70 222.24,816.28 252.88,822.34"/>
<polygon points="38.40,859.59 42.31,863.50 38.40,867.41 34.49,863.50" fill="#000"/>
<polygon points="53.72,782.05 57.63,785.96 53.72,789.88 49.81,785.96" fill="#000"/>
<polygon points="69.04,766.31 72.95,770.22 69.04,774.13 65.13,770.22" fill="#000"/>
<polygon points="84.36,753.48 88.27,757.39 84.36,761.31 80.45,757.39" fill="#000"/>
<polygon points="99.68,766.89 103.59,770.80 99.68,774.72 95.77,770.80" fill="#000"/>
<polygon points="115.00,765.14 118.91,769.05 115.00,772.97 111.09,769.05" fill="#000"/>
<polygon points="130.32,769.22 134.23,773.13 130.32,777.05 126.41,773.13" fill="#000"/>
<polygon points="145.64,765.72 149.55,769.64 145.64,773.55 141.73,769.64" fill="#000"/>
<polygon points="160.96,798.95 164.87,802.87 160.96,806.78 157.05,802.87" fill="#000"/>
<polygon points="176.28,800.70 180.19,804.62 176.28,808.53 172.37,804.62" fill="#000"/>
<polygon points="191.60,801.87 195.51,805.78 191.60,809.70 187.69,805.78" fill="#000"/>
<polygon points="206.92,804.78 210.83,808.70 206.92,812.61 203.01,808.70" fill="#000"/>
<polygon points="222.24,812.36 226.15,816.28 222.24,820.19 218.33,816.28" fill="#000"/>
<polygon points="252.88,818.43 256.79,822.34 252.88,826.25 248.97,822.34" fill="#000"/>
<line x1="69.04" y1="774.30" x2="69.04" y2="768.47" stroke="#000" stroke-width="1.2" stroke-linecap="butt"/>
<line x1="65.74" y1="768.47" x2="72.34" y2="768.47" stroke="#000" stroke-width="1.2" stroke-linecap="butt"/>
<line x1="84.36" y1="759.73" x2="84.36" y2="746.90" stroke="#000" stroke-width="1.2" stroke-linecap="butt"/>
<line x1="81.06" y1="746.90" x2="87.66" y2="746.90" stroke="#000" stroke-width="1.2" stroke-linecap="butt"/>
<line x1="99.68" y1="775.18" x2="99.68" y2="765.85" stroke="#000" stroke-width="1.2" stroke-linecap="butt"/>
<line x1="96.38" y1="765.85" x2="102.98" y2="765.85" stroke="#000" stroke-width="1.2" stroke-linecap="butt"/>
<line x1="115.00" y1="772.73" x2="115.00" y2="766.90" stroke="#000" stroke-width="1.2" stroke-linecap="butt"/>
<line x1="111.70" y1="766.90" x2="118.30" y2="766.90" stroke="#000" stroke-width="1.2" stroke-linecap="butt"/>
<line x1="130.32" y1="777.80" x2="130.32" y2="771.97" stroke="#000" stroke-width="1.2" stroke-linecap="butt"/>
<line x1="127.02" y1="771.97" x2="133.62" y2="771.97" stroke="#000" stroke-width="1.2" stroke-linecap="butt"/>
<line x1="145.64" y1="776.05" x2="145.64" y2="769.64" stroke="#000" stroke-width="1.2" stroke-linecap="butt"/>
<line x1="142.34" y1="769.64" x2="148.94" y2="769.64" stroke="#000" stroke-width="1.2" stroke-linecap="butt"/>
<line x1="160.96" y1="793.54" x2="160.96" y2="786.25" stroke="#000" stroke-width="1.2" stroke-linecap="butt"/>
<line x1="157.66" y1="786.25" x2="164.26" y2="786.25" stroke="#000" stroke-width="1.2" stroke-linecap="butt"/>
<line x1="176.28" y1="785.38" x2="176.28" y2="778.38" stroke="#000" stroke-width="1.2" stroke-linecap="butt"/>
<line x1="172.98" y1="778.38" x2="179.58" y2="778.38" stroke="#000" stroke-width="1.2" stroke-linecap="butt"/>
<line x1="191.60" y1="777.80" x2="191.60" y2="768.65" stroke="#000" stroke-width="1.2" stroke-linecap="butt"/>
<line x1="188.30" y1="768.65" x2="194.90" y2="768.65" stroke="#000" stroke-width="1.2" stroke-linecap="butt"/>
<line x1="206.92" y1="781.53" x2="206.92" y2="773.95" stroke="#000" stroke-width="1.2" stroke-linecap="butt"/>
<line x1="203.62" y1="773.95" x2="210.22" y2="773.95" stroke="#000" stroke-width="1.2" stroke-linecap="butt"/>
<line x1="222.24" y1="784.21" x2="222.24" y2="776.63" stroke="#000" stroke-width="1.2" stroke-linecap="butt"/>
<line x1="218.94" y1="776.63" x2="225.54" y2="776.63" stroke="#000" stroke-width="1.2" stroke-linecap="butt"/>
<line x1="252.88" y1="785.09" x2="252.88" y2="772.84" stroke="#000" stroke-width="1.2" stroke-linecap="butt"/>
<line x1="249.58" y1="772.84" x2="256.18" y2="772.84" stroke="#000" stroke-width="1.2" stroke-linecap="butt"/>
<line x1="69.04" y1="774.30" x2="69.04" y2="782.46" stroke="#000" stroke-width="1.2" stroke-linecap="butt"/>
<line x1="65.74" y1="782.46" x2="72.34" y2="782.46" stroke="#000" stroke-width="1.2" stroke-linecap="butt"/>
<line x1="84.36" y1="759.73" x2="84.36" y2="777.22" stroke="#000" stroke-width="1.2" stroke-linecap="butt"/>
<line x1="81.06" y1="777.22" x2="87.66" y2="777.22" stroke="#000" stroke-width="1.2" stroke-linecap="butt"/>
<line x1="99.68" y1="775.18" x2="99.68" y2="786.25" stroke="#000" stroke-width="1.2" stroke-linecap="butt"/>
<line x1="96.38" y1="786.25" x2="102.98" y2="786.25" stroke="#000" stroke-width="1.2" stroke-linecap="butt"/>
<line x1="115.00" y1="772.73" x2="115.00" y2="778.56" stroke="#000" stroke-width="1.2" stroke-linecap="butt"/>
<line x1="111.70" y1="778.56" x2="118.30" y2="778.56" stroke="#000" stroke-width="1.2" stroke-linecap="butt"/>
<line x1="130.32" y1="777.80" x2="130.32" y2="783.63" stroke="#000" stroke-width="1.2" stroke-linecap="butt"/>
<line x1="127.02" y1="783.63" x2="133.62" y2="783.63" stroke="#000" stroke-width="1.2" stroke-linecap="butt"/>
<line x1="145.64" y1="776.05" x2="145.64" y2="782.75" stroke="#000" stroke-width="1.2" stroke-linecap="butt"/>
<line x1="142.34" y1="782.75" x2="148.94" y2="782.75" stroke="#000" stroke-width="1.2" stroke-linecap="butt"/>
<line x1="160.96" y1="793.54" x2="160.96" y2="800.83" stroke="#000" stroke-width="1.2" stroke-linecap="butt"/>
<line x1="157.66" y1="800.83" x2="164.26" y2="800.83" stroke="#000" stroke-width="1.2" stroke-linecap="butt"/>
<line x1="176.28" y1="785.38" x2="176.28" y2="792.37" stroke="#000" stroke-width="1.2" stroke-linecap="butt"/>
<line x1="172.98" y1="792.37" x2="179.58" y2="792.37" stroke="#000" stroke-width="1.2" stroke-linecap="butt"/>
<line x1="191.60" y1="777.80" x2="191.60" y2="786.95" stroke="#000" stroke-width="1.2" stroke-linecap="butt"/>
<line x1="188.30" y1="786.95" x2="194.90" y2="786.95" stroke="#000" stroke-width="1.2" stroke-linecap="butt"/>
<line x1="206.92" y1="781.53" x2="206.92" y2="789.11" stroke="#000" stroke-width="1.2" stroke-linecap="butt"/>
<line x1="203.62" y1="789.11" x2="210.22" y2="789.11" stroke="#000" stroke-width="1.2" stroke-linecap="butt"/>
<line x1="222.24" y1="784.21" x2="222.24" y2="791.79" stroke="#000" stroke-width="1.2" stroke-linecap="butt"/>
<line x1="218.94" y1="791.79" x2="225.54" y2="791.79" stroke="#000" stroke-width="1.2" stroke-linecap="butt"/>
<line x1="252.88" y1="785.09" x2="252.88" y2="797.33" stroke="#000" stroke-width="1.2" stroke-linecap="butt"/>
<line x1="249.58" y1="797.33" x2="256.18" y2="797.33" stroke="#000" stroke-width="1.2" stroke-linecap="butt"/>
<polyline fill="none" stroke="#000" stroke-width="1.2" stroke-linejoin="round" points="38.40,863.50 53.72,790.04 69.04,774.30 84.36,759.73 99.68,775.18 115.00,772.73 130.32,777.80 145.64,776.05 160.96,793.54 176.28,785.38 191.60,777.80 206.92,781.53 222.24,784.21 252.88,785.09"/>
<polygon points="38.40,867.62 42.21,860.51 34.59,860.51" fill="#000"/>
<polygon points="53.72,794.16 57.53,787.06 49.91,787.06" fill="#000"/>
<polygon points="69.04,778.42 72.85,771.31 65.23,771.31" fill="#000"/>
<polygon points="84.36,763.85 88.17,756.74 80.55,756.74" fill="#000"/>
<polygon points="99.68,779.30 103.49,772.19 95.87,772.19" fill="#000"/>
<polygon points="115.00,776.85 118.81,769.74 111.19,769.74" fill="#000"/>
<polygon points="130.32,781.92 134.13,774.81 126.51,774.81" fill="#000"/>
<polygon points="145.64,780.17 149.45,773.06 141.83,773.06" fill="#000"/>
<polygon points="160.96,797.66 164.77,790.55 157.15,790.55" fill="#000"/>
<polygon points="176.28,789.50 180.09,782.39 172.47,782.39" fill="#000"/>
<polygon points="191.60,781.92 195.41,774.81 187.79,774.81" fill="#000"/>
<polygon points="206.92,785.65 210.73,778.54 203.11,778.54" fill="#000"/>
<polygon points="222.24,788.33 226.05,781.23 218.43,781.23" fill="#000"/>
<polygon points="252.88,789.21 256.69,782.10 249.07,782.10" fill="#000"/>
<line x1="99.68" y1="772.55" x2="99.68" y2="762.06" stroke="#000" stroke-width="1.2" stroke-linecap="butt"/>
<line x1="96.38" y1="762.06" x2="102.98" y2="762.06" stroke="#000" stroke-width="1.2" stroke-linecap="butt"/>
<line x1="176.28" y1="820.94" x2="176.28" y2="811.03" stroke="#000" stroke-width="1.2" stroke-linecap="butt"/>
<line x1="172.98" y1="811.03" x2="179.58" y2="811.03" stroke="#000" stroke-width="1.2" stroke-linecap="butt"/>
<line x1="206.92" y1="828.52" x2="206.92" y2="822.69" stroke="#000" stroke-width="1.2" stroke-linecap="butt"/>
<line x1="203.62" y1="822.69" x2="210.22" y2="822.69" stroke="#000" stroke-width="1.2" stroke-linecap="butt"/>
<line x1="222.24" y1="831.43" x2="222.24" y2="826.77" stroke="#000" stroke-width="1.2" stroke-linecap="butt"/>
<line x1="218.94" y1="826.77" x2="225.54" y2="826.77" stroke="#000" stroke-width="1.2" stroke-linecap="butt"/>
<line x1="252.88" y1="838.66" x2="252.88" y2="832.83" stroke="#000" stroke-width="1.2" stroke-linecap="butt"/>
<line x1="249.58" y1="832.83" x2="256.18" y2="832.83" stroke="#000" stroke-width="1.2" stroke-linecap="butt"/>
<line x1="160.96" y1="827.94" x2="160.96" y2="823.27" stroke="#000" stroke-width="1.2" stroke-linecap="butt"/>
<line x1="157.66" y1="823.27" x2="164.26" y2="823.27" stroke="#000" stroke-width="1.2" stroke-linecap="butt"/>
<line x1="99.68" y1="772.55" x2="99.68" y2="783.05" stroke="#000" stroke-width="1.2" stroke-linecap="butt"/>
<line x1="96.38" y1="783.05" x2="102.98" y2="783.05" stroke="#000" stroke-width="1.2" stroke-linecap="butt"/>
<line x1="160.96" y1="827.94" x2="160.96" y2="832.60" stroke="#000" stroke-width="1.2" stroke-linecap="butt"/>
<line x1="157.66" y1="832.60" x2="164.26" y2="832.60" stroke="#000" stroke-width="1.2" stroke-linecap="butt"/>
<line x1="252.88" y1="838.66" x2="252.88" y2="841.58" stroke="#000" stroke-width="1.2" stroke-linecap="butt"/>
<line x1="249.58" y1="841.58" x2="256.18" y2="841.58" stroke="#000" stroke-width="1.2" stroke-linecap="butt"/>
<polyline fill="none" stroke="#000" stroke-width="1.2" stroke-linejoin="round" points="38.40,863.50 53.72,787.13 69.04,771.97 84.36,758.56 99.68,772.55 115.00,770.22 130.32,774.88 145.64,771.97 160.96,827.94 176.28,820.94 191.60,832.02 206.92,828.52 222.24,831.43 252.88,838.66"/>
<polygon points="38.40,859.38 42.21,866.49 34.59,866.49" fill="#000"/>
<polygon points="53.72,783.01 57.53,790.11 49.91,790.11" fill="#000"/>
<polygon points="69.04,767.85 72.85,774.96 65.23,774.96" fill="#000"/>
<polygon points="84.36,754.44 88.17,761.55 80.55,761.55" fill="#000"/>
<polygon points="99.68,768.43 103.49,775.54 95.87,775.54" fill="#000"/>
<polygon points="115.00,766.10 118.81,773.21 111.19,773.21" fill="#000"/>
<polygon points="130.32,770.76 134.13,777.87 126.51,777.87" fill="#000"/>
<polygon points="145.64,767.85 149.45,774.96 141.83,774.96" fill="#000"/>
<polygon points="160.96,823.82 164.77,830.92 157.15,830.92" fill="#000"/>
<polygon points="176.28,816.82 180.09,823.93 172.47,823.93" fill="#000"/>
<polygon points="191.60,827.90 195.41,835.00 187.79,835.00" fill="#000"/>
<polygon points="206.92,824.40 210.73,831.51 203.11,831.51" fill="#000"/>
<polygon points="222.24,827.31 226.05,834.42 218.43,834.42" fill="#000"/>
<polygon points="252.88,834.54 256.69,841.65 249.07,841.65" fill="#000"/>
<line x1="69.04" y1="768.47" x2="69.04" y2="760.89" stroke="#000" stroke-width="1.2" stroke-linecap="butt"/>
<line x1="65.74" y1="760.89" x2="72.34" y2="760.89" stroke="#000" stroke-width="1.2" stroke-linecap="butt"/>
<line x1="84.36" y1="748.24" x2="84.36" y2="737.75" stroke="#000" stroke-width="1.2" stroke-linecap="butt"/>
<line x1="81.06" y1="737.75" x2="87.66" y2="737.75" stroke="#000" stroke-width="1.2" stroke-linecap="butt"/>
<line x1="99.68" y1="769.05" x2="99.68" y2="760.89" stroke="#000" stroke-width="1.2" stroke-linecap="butt"/>
<line x1="96.38" y1="760.89" x2="102.98" y2="760.89" stroke="#000" stroke-width="1.2" stroke-linecap="butt"/>
<line x1="115.00" y1="768.18" x2="115.00" y2="765.26" stroke="#000" stroke-width="1.2" stroke-linecap="butt"/>
<line x1="111.70" y1="765.26" x2="118.30" y2="765.26" stroke="#000" stroke-width="1.2" stroke-linecap="butt"/>
<line x1="130.32" y1="771.50" x2="130.32" y2="768.59" stroke="#000" stroke-width="1.2" stroke-linecap="butt"/>
<line x1="127.02" y1="768.59" x2="133.62" y2="768.59" stroke="#000" stroke-width="1.2" stroke-linecap="butt"/>
<line x1="145.64" y1="766.72" x2="145.64" y2="763.81" stroke="#000" stroke-width="1.2" stroke-linecap="butt"/>
<line x1="142.34" y1="763.81" x2="148.94" y2="763.81" stroke="#000" stroke-width="1.2" stroke-linecap="butt"/>
<line x1="160.96" y1="748.65" x2="160.96" y2="737.28" stroke="#000" stroke-width="1.2" stroke-linecap="butt"/>
<line x1="157.66" y1="737.28" x2="164.26" y2="737.28" stroke="#000" stroke-width="1.2" stroke-linecap="butt"/>
<line x1="176.28" y1="752.15" x2="176.28" y2="744.16" stroke="#000" stroke-width="1.2" stroke-linecap="butt"/>
<line x1="172.98" y1="744.16" x2="179.58" y2="744.16" stroke="#000" stroke-width="1.2" stroke-linecap="butt"/>
<line x1="191.60" y1="737.16" x2="191.60" y2="726.67" stroke="#000" stroke-width="1.2" stroke-linecap="butt"/>
<line x1="188.30" y1="726.67" x2="194.90" y2="726.67" stroke="#000" stroke-width="1.2" stroke-linecap="butt"/>
<line x1="206.92" y1="736.41" x2="206.92" y2="724.75" stroke="#000" stroke-width="1.2" stroke-linecap="butt"/>
<line x1="203.62" y1="724.75" x2="210.22" y2="724.75" stroke="#000" stroke-width="1.2" stroke-linecap="butt"/>
<line x1="222.24" y1="741.94" x2="222.24" y2="733.43" stroke="#000" stroke-width="1.2" stroke-linecap="butt"/>
<line x1="218.94" y1="733.43" x2="225.54" y2="733.43" stroke="#000" stroke-width="1.2" stroke-linecap="butt"/>
<line x1="252.88" y1="743.99" x2="252.88" y2="736.41" stroke="#000" stroke-width="1.2" stroke-linecap="butt"/>
<line x1="249.58" y1="736.41" x2="256.18" y2="736.41" stroke="#000" stroke-width="1.2" stroke-linecap="butt"/>
<line x1="69.04" y1="768.47" x2="69.04" y2="776.05" stroke="#000" stroke-width="1.2" stroke-linecap="butt"/>
<line x1="65.74" y1="776.05" x2="72.34" y2="776.05" stroke="#000" stroke-width="1.2" stroke-linecap="butt"/>
<line x1="84.36" y1="748.24" x2="84.36" y2="758.73" stroke="#000" stroke-width="1.2" stroke-linecap="butt"/>
<line x1="81.06" y1="758.73" x2="87.66" y2="758.73" stroke="#000" stroke-width="1.2" stroke-linecap="butt"/>
<line x1="99.68" y1="769.05" x2="99.68" y2="777.22" stroke="#000" stroke-width="1.2" stroke-linecap="butt"/>
<line x1="96.38" y1="777.22" x2="102.98" y2="777.22" stroke="#000" stroke-width="1.2" stroke-linecap="butt"/>
<line x1="115.00" y1="768.18" x2="115.00" y2="771.09" stroke="#000" stroke-width="1.2" stroke-linecap="butt"/>
<line x1="111.70" y1="771.09" x2="118.30" y2="771.09" stroke="#000" stroke-width="1.2" stroke-linecap="butt"/>
<line x1="130.32" y1="771.50" x2="130.32" y2="774.42" stroke="#000" stroke-width="1.2" stroke-linecap="butt"/>
<line x1="127.02" y1="774.42" x2="133.62" y2="774.42" stroke="#000" stroke-width="1.2" stroke-linecap="butt"/>
<line x1="145.64" y1="766.72" x2="145.64" y2="769.64" stroke="#000" stroke-width="1.2" stroke-linecap="butt"/>
<line x1="142.34" y1="769.64" x2="148.94" y2="769.64" stroke="#000" stroke-width="1.2" stroke-linecap="butt"/>
<line x1="160.96" y1="748.65" x2="160.96" y2="760.02" stroke="#000" stroke-width="1.2" stroke-linecap="butt"/>
<line x1="157.66" y1="760.02" x2="164.26" y2="760.02" stroke="#000" stroke-width="1.2" stroke-linecap="butt"/>
<line x1="176.28" y1="752.15" x2="176.28" y2="760.13" stroke="#000" stroke-width="1.2" stroke-linecap="butt"/>
<line x1="172.98" y1="760.13" x2="179.58" y2="760.13" stroke="#000" stroke-width="1.2" stroke-linecap="butt"/>
<line x1="191.60" y1="737.16" x2="191.60" y2="747.66" stroke="#000" stroke-width="1.2" stroke-linecap="butt"/>
<line x1="188.30" y1="747.66" x2="194.90" y2="747.66" stroke="#000" stroke-width="1.2" stroke-linecap="butt"/>
<line x1="206.92" y1="736.41" x2="206.92" y2="748.07" stroke="#000" stroke-width="1.2" stroke-linecap="butt"/>
<line x1="203.62" y1="748.07" x2="210.22" y2="748.07" stroke="#000" stroke-width="1.2" stroke-linecap="butt"/>
<line x1="222.24" y1="741.94" x2="222.24" y2="750.46" stroke="#000" stroke-width="1.2" stroke-linecap="butt"/>
<line x1="218.94" y1="750.46" x2="225.54" y2="750.46" stroke="#000" stroke-width="1.2" stroke-linecap="butt"/>
<line x1="252.88" y1="743.99" x2="252.88" y2="751.56" stroke="#000" stroke-width="1.2" stroke-linecap="butt"/>
<line x1="249.58" y1="751.56" x2="256.18" y2="751.56" stroke="#000" stroke-width="1.2" stroke-linecap="butt"/>
<polyline fill="none" stroke="#000" stroke-width="1.2" stroke-linejoin="round" points="38.40,863.50 53.72,784.21 69.04,768.47 84.36,748.24 99.68,769.05 115.00,768.18 130.32,771.50 145.64,766.72 160.96,748.65 176.28,752.15 191.60,737.16 206.92,736.41 222.24,741.94 252.88,743.99"/>
<rect x="34.85" y="859.95" width="7.11" height="7.11" fill="#000"/>
<rect x="50.17" y="780.66" width="7.11" height="7.11" fill="#000"/>
<rect x="65.49" y="764.92" width="7.11" height="7.11" fill="#000"/>
<rect x="80.81" y="744.69" width="7.11" height="7.11" fill="#000"/>
<rect x="96.13" y="765.50" width="7.11" height="7.11" fill="#000"/>
<rect x="111.45" y="764.63" width="7.11" height="7.11" fill="#000"/>
<rect x="126.77" y="767.95" width="7.11" height="7.11" fill="#000"/>
<rect x="142.09" y="763.17" width="7.11" height="7.11" fill="#000"/>
<rect x="157.41" y="745.10" width="7.11" height="7.11" fill="#000"/>
<rect x="172.73" y="748.59" width="7.11" height="7.11" fill="#000"/>
<rect x="188.05" y="733.61" width="7.11" height="7.11" fill="#000"/>
<rect x="203.37" y="732.85" width="7.11" height="7.11" fill="#000"/>
<rect x="218.69" y="738.39" width="7.11" height="7.11" fill="#000"/>
<rect x="249.33" y="740.43" width="7.11" height="7.11" fill="#000"/>
<polyline fill="none" stroke="#000" stroke-width="1.2" stroke-linejoin="round" points="38.40,863.50 53.72,858.84 69.04,858.25 84.36,855.92 99.68,854.17 115.00,854.93 130.32,854.93 145.64,857.32 160.96,854.64 176.28,853.24 191.60,850.56 206.92,851.08 222.24,849.86 252.88,852.83"/>
<circle cx="38.40" cy="863.50" r="3.50" fill="#000"/>
<circle cx="53.72" cy="858.84" r="3.50" fill="#000"/>
<circle cx="69.04" cy="858.25" r="3.50" fill="#000"/>
<circle cx="84.36" cy="855.92" r="3.50" fill="#000"/>
<circle cx="99.68" cy="854.17" r="3.50" fill="#000"/>
<circle cx="115.00" cy="854.93" r="3.50" fill="#000"/>
<circle cx="130.32" cy="854.93" r="3.50" fill="#000"/>
<circle cx="145.64" cy="857.32" r="3.50" fill="#000"/>
<circle cx="160.96" cy="854.64" r="3.50" fill="#000"/>
<circle cx="176.28" cy="853.24" r="3.50" fill="#000"/>
<circle cx="191.60" cy="850.56" r="3.50" fill="#000"/>
<circle cx="206.92" cy="851.08" r="3.50" fill="#000"/>
<circle cx="222.24" cy="849.86" r="3.50" fill="#000"/>
<circle cx="252.88" cy="852.83" r="3.50" fill="#000"/>
<line x1="43.10" y1="1055.60" x2="43.10" y2="1199.80" stroke="#000" stroke-width="2.0" stroke-linecap="butt"/>
<line x1="42.10" y1="1175.10" x2="257.70" y2="1175.10" stroke="#000" stroke-width="2.0" stroke-linecap="butt"/>
<line x1="38.30" y1="1198.80" x2="43.10" y2="1198.80" stroke="#000" stroke-width="2.0" stroke-linecap="butt"/>
<line x1="38.30" y1="1175.10" x2="43.10" y2="1175.10" stroke="#000" stroke-width="2.0" stroke-linecap="butt"/>
<line x1="38.30" y1="1151.40" x2="43.10" y2="1151.40" stroke="#000" stroke-width="2.0" stroke-linecap="butt"/>
<line x1="38.30" y1="1127.70" x2="43.10" y2="1127.70" stroke="#000" stroke-width="2.0" stroke-linecap="butt"/>
<line x1="38.30" y1="1104.00" x2="43.10" y2="1104.00" stroke="#000" stroke-width="2.0" stroke-linecap="butt"/>
<line x1="38.30" y1="1080.30" x2="43.10" y2="1080.30" stroke="#000" stroke-width="2.0" stroke-linecap="butt"/>
<line x1="38.30" y1="1056.60" x2="43.10" y2="1056.60" stroke="#000" stroke-width="2.0" stroke-linecap="butt"/>
<line x1="114.30" y1="1175.10" x2="114.30" y2="1179.90" stroke="#000" stroke-width="2.0" stroke-linecap="butt"/>
<line x1="185.50" y1="1175.10" x2="185.50" y2="1179.90" stroke="#000" stroke-width="2.0" stroke-linecap="butt"/>
<line x1="256.70" y1="1175.10" x2="256.70" y2="1179.90" stroke="#000" stroke-width="2.0" stroke-linecap="butt"/>
<text x="37.80" y="1203.72" font-size="13.2" font-weight="normal" text-anchor="end" stroke="#000" stroke-width="0.3" textLength="16.0" lengthAdjust="spacingAndGlyphs" >-20</text>
<text x="37.80" y="1180.02" font-size="13.2" font-weight="normal" text-anchor="end" stroke="#000" stroke-width="0.3" textLength="6.0" lengthAdjust="spacingAndGlyphs" >0</text>
<text x="37.80" y="1156.32" font-size="13.2" font-weight="normal" text-anchor="end" stroke="#000" stroke-width="0.3" textLength="12.0" lengthAdjust="spacingAndGlyphs" >20</text>
<text x="37.80" y="1132.62" font-size="13.2" font-weight="normal" text-anchor="end" stroke="#000" stroke-width="0.3" textLength="12.0" lengthAdjust="spacingAndGlyphs" >40</text>
<text x="37.80" y="1108.92" font-size="13.2" font-weight="normal" text-anchor="end" stroke="#000" stroke-width="0.3" textLength="12.0" lengthAdjust="spacingAndGlyphs" >60</text>
<text x="37.80" y="1085.22" font-size="13.2" font-weight="normal" text-anchor="end" stroke="#000" stroke-width="0.3" textLength="12.0" lengthAdjust="spacingAndGlyphs" >80</text>
<text x="37.80" y="1061.52" font-size="13.2" font-weight="normal" text-anchor="end" stroke="#000" stroke-width="0.3" textLength="18.0" lengthAdjust="spacingAndGlyphs" >100</text>
<text x="114.30" y="1193.62" font-size="13.2" font-weight="normal" text-anchor="middle" stroke="#000" stroke-width="0.3" textLength="12.0" lengthAdjust="spacingAndGlyphs" >10</text>
<text x="185.50" y="1193.62" font-size="13.2" font-weight="normal" text-anchor="middle" stroke="#000" stroke-width="0.3" textLength="12.0" lengthAdjust="spacingAndGlyphs" >20</text>
<text x="256.70" y="1193.62" font-size="13.2" font-weight="normal" text-anchor="middle" stroke="#000" stroke-width="0.3" textLength="12.0" lengthAdjust="spacingAndGlyphs" >30</text>
<text x="150.20" y="1208.12" font-size="13.2" font-weight="normal" text-anchor="middle" stroke="#000" stroke-width="0.3" textLength="57.7" lengthAdjust="spacingAndGlyphs" >Time (days)</text>
<text x="12.50" y="1128.00" font-size="13.2" font-weight="normal" text-anchor="middle" stroke="#000" stroke-width="0.3" transform="rotate(-90 12.50 1128.00)" textLength="128.0" lengthAdjust="spacingAndGlyphs" >Change in paw volume (%)</text>
<text x="6.00" y="983.60" font-size="28" font-weight="bold" text-anchor="start" stroke="#000" stroke-width="0.35" >G</text>
<line x1="55.50" y1="1004.10" x2="70.70" y2="1004.10" stroke="#000" stroke-width="1.0" stroke-linecap="butt"/>
<circle cx="63.10" cy="1004.10" r="2.96" fill="#000"/>
<text x="79.50" y="1008.82" font-size="13.2" font-weight="bold" text-anchor="start" stroke="#000" stroke-width="0.35" textLength="16.5" lengthAdjust="spacingAndGlyphs" >IFA</text>
<line x1="55.50" y1="1017.90" x2="70.70" y2="1017.90" stroke="#000" stroke-width="1.0" stroke-linecap="butt"/>
<rect x="60.10" y="1014.90" width="6.00" height="6.00" fill="#000"/>
<text x="79.50" y="1022.62" font-size="13.2" font-weight="bold" text-anchor="start" stroke="#000" stroke-width="0.35" textLength="20.8" lengthAdjust="spacingAndGlyphs" >CFA</text>
<line x1="55.50" y1="1031.90" x2="70.70" y2="1031.90" stroke="#000" stroke-width="1.0" stroke-linecap="butt"/>
<polygon points="63.10,1028.42 66.32,1034.42 59.88,1034.42" fill="#000"/>
<text x="79.50" y="1036.62" font-size="13.2" font-weight="bold" text-anchor="start" stroke="#000" stroke-width="0.35" textLength="83.2" lengthAdjust="spacingAndGlyphs" >DEX (0.3 mg/kg)</text>
<line x1="55.50" y1="1045.90" x2="70.70" y2="1045.90" stroke="#000" stroke-width="1.0" stroke-linecap="butt"/>
<polygon points="63.10,1049.38 66.32,1043.38 59.88,1043.38" fill="#000"/>
<text x="79.50" y="1050.62" font-size="13.2" font-weight="bold" text-anchor="start" stroke="#000" stroke-width="0.35" textLength="82.6" lengthAdjust="spacingAndGlyphs" >HFE (50 mg /kg)</text>
<line x1="55.50" y1="1060.20" x2="70.70" y2="1060.20" stroke="#000" stroke-width="1.0" stroke-linecap="butt"/>
<polygon points="63.10,1056.89 66.41,1060.20 63.10,1063.51 59.79,1060.20" fill="#000"/>
<text x="79.50" y="1064.92" font-size="13.2" font-weight="bold" text-anchor="start" stroke="#000" stroke-width="0.35" textLength="85.5" lengthAdjust="spacingAndGlyphs" >HFE (200 mg/kg)</text>
<circle cx="63.10" cy="1074.10" r="2.48" fill="#fff" stroke="#000" stroke-width="1.2"/>
<line x1="55.50" y1="1074.10" x2="70.70" y2="1074.10" stroke="#000" stroke-width="1.0" stroke-linecap="butt"/>
<text x="79.50" y="1078.82" font-size="13.2" font-weight="bold" text-anchor="start" stroke="#000" stroke-width="0.35" textLength="85.5" lengthAdjust="spacingAndGlyphs" >HFE (500 mg/kg)</text>
<line x1="157.02" y1="1170.60" x2="157.02" y2="1165.86" stroke="#000" stroke-width="1.2" stroke-linecap="butt"/>
<line x1="153.72" y1="1165.86" x2="160.32" y2="1165.86" stroke="#000" stroke-width="1.2" stroke-linecap="butt"/>
<line x1="185.50" y1="1163.49" x2="185.50" y2="1158.75" stroke="#000" stroke-width="1.2" stroke-linecap="butt"/>
<line x1="182.20" y1="1158.75" x2="188.80" y2="1158.75" stroke="#000" stroke-width="1.2" stroke-linecap="butt"/>
<line x1="199.74" y1="1170.60" x2="199.74" y2="1165.86" stroke="#000" stroke-width="1.2" stroke-linecap="butt"/>
<line x1="196.44" y1="1165.86" x2="203.04" y2="1165.86" stroke="#000" stroke-width="1.2" stroke-linecap="butt"/>
<polyline fill="none" stroke="#000" stroke-width="1.2" stroke-linejoin="round" points="43.10,1175.10 57.34,1174.51 71.58,1175.10 85.82,1174.74 100.06,1174.74 114.30,1174.74 128.54,1174.63 142.78,1173.91 157.02,1170.60 171.26,1168.58 185.50,1163.49 199.74,1170.60 213.98,1173.68 242.46,1174.74"/>
<circle cx="43.10" cy="1175.10" r="2.88" fill="#fff" stroke="#000" stroke-width="1.2"/>
<circle cx="57.34" cy="1174.51" r="2.88" fill="#fff" stroke="#000" stroke-width="1.2"/>
<circle cx="71.58" cy="1175.10" r="2.88" fill="#fff" stroke="#000" stroke-width="1.2"/>
<circle cx="85.82" cy="1174.74" r="2.88" fill="#fff" stroke="#000" stroke-width="1.2"/>
<circle cx="100.06" cy="1174.74" r="2.88" fill="#fff" stroke="#000" stroke-width="1.2"/>
<circle cx="114.30" cy="1174.74" r="2.88" fill="#fff" stroke="#000" stroke-width="1.2"/>
<circle cx="128.54" cy="1174.63" r="2.88" fill="#fff" stroke="#000" stroke-width="1.2"/>
<circle cx="142.78" cy="1173.91" r="2.88" fill="#fff" stroke="#000" stroke-width="1.2"/>
<circle cx="157.02" cy="1170.60" r="2.88" fill="#fff" stroke="#000" stroke-width="1.2"/>
<circle cx="171.26" cy="1168.58" r="2.88" fill="#fff" stroke="#000" stroke-width="1.2"/>
<circle cx="185.50" cy="1163.49" r="2.88" fill="#fff" stroke="#000" stroke-width="1.2"/>
<circle cx="199.74" cy="1170.60" r="2.88" fill="#fff" stroke="#000" stroke-width="1.2"/>
<circle cx="213.98" cy="1173.68" r="2.88" fill="#fff" stroke="#000" stroke-width="1.2"/>
<circle cx="242.46" cy="1174.74" r="2.88" fill="#fff" stroke="#000" stroke-width="1.2"/>
<line x1="171.26" y1="1162.54" x2="171.26" y2="1157.44" stroke="#000" stroke-width="1.2" stroke-linecap="butt"/>
<line x1="167.96" y1="1157.44" x2="174.56" y2="1157.44" stroke="#000" stroke-width="1.2" stroke-linecap="butt"/>
<line x1="185.50" y1="1162.06" x2="185.50" y2="1156.61" stroke="#000" stroke-width="1.2" stroke-linecap="butt"/>
<line x1="182.20" y1="1156.61" x2="188.80" y2="1156.61" stroke="#000" stroke-width="1.2" stroke-linecap="butt"/>
<line x1="199.74" y1="1163.49" x2="199.74" y2="1160.05" stroke="#000" stroke-width="1.2" stroke-linecap="butt"/>
<line x1="196.44" y1="1160.05" x2="203.04" y2="1160.05" stroke="#000" stroke-width="1.2" stroke-linecap="butt"/>
<line x1="213.98" y1="1161.95" x2="213.98" y2="1155.43" stroke="#000" stroke-width="1.2" stroke-linecap="butt"/>
<line x1="210.68" y1="1155.43" x2="217.28" y2="1155.43" stroke="#000" stroke-width="1.2" stroke-linecap="butt"/>
<line x1="242.46" y1="1164.20" x2="242.46" y2="1159.46" stroke="#000" stroke-width="1.2" stroke-linecap="butt"/>
<line x1="239.16" y1="1159.46" x2="245.76" y2="1159.46" stroke="#000" stroke-width="1.2" stroke-linecap="butt"/>
<polyline fill="none" stroke="#000" stroke-width="1.2" stroke-linejoin="round" points="43.10,1175.10 57.34,1174.51 71.58,1175.10 85.82,1174.74 100.06,1174.74 114.30,1174.74 128.54,1174.63 142.78,1173.91 157.02,1177.47 171.26,1162.54 185.50,1162.06 199.74,1163.49 213.98,1161.95 242.46,1164.20"/>
<polygon points="43.10,1171.19 47.01,1175.10 43.10,1179.01 39.19,1175.10" fill="#000"/>
<polygon points="57.34,1170.59 61.25,1174.51 57.34,1178.42 53.43,1174.51" fill="#000"/>
<polygon points="71.58,1171.19 75.49,1175.10 71.58,1179.01 67.67,1175.10" fill="#000"/>
<polygon points="85.82,1170.83 89.73,1174.74 85.82,1178.66 81.91,1174.74" fill="#000"/>
<polygon points="100.06,1170.83 103.97,1174.74 100.06,1178.66 96.15,1174.74" fill="#000"/>
<polygon points="114.30,1170.83 118.21,1174.74 114.30,1178.66 110.39,1174.74" fill="#000"/>
<polygon points="128.54,1170.71 132.45,1174.63 128.54,1178.54 124.63,1174.63" fill="#000"/>
<polygon points="142.78,1170.00 146.69,1173.91 142.78,1177.83 138.87,1173.91" fill="#000"/>
<polygon points="157.02,1173.56 160.93,1177.47 157.02,1181.38 153.11,1177.47" fill="#000"/>
<polygon points="171.26,1158.62 175.17,1162.54 171.26,1166.45 167.35,1162.54" fill="#000"/>
<polygon points="185.50,1158.15 189.41,1162.06 185.50,1165.98 181.59,1162.06" fill="#000"/>
<polygon points="199.74,1159.57 203.65,1163.49 199.74,1167.40 195.83,1163.49" fill="#000"/>
<polygon points="213.98,1158.03 217.89,1161.95 213.98,1165.86 210.07,1161.95" fill="#000"/>
<polygon points="242.46,1160.28 246.37,1164.20 242.46,1168.11 238.55,1164.20" fill="#000"/>
<line x1="157.02" y1="1134.57" x2="157.02" y2="1126.04" stroke="#000" stroke-width="1.2" stroke-linecap="butt"/>
<line x1="153.72" y1="1126.04" x2="160.32" y2="1126.04" stroke="#000" stroke-width="1.2" stroke-linecap="butt"/>
<line x1="171.26" y1="1133.15" x2="171.26" y2="1113.01" stroke="#000" stroke-width="1.2" stroke-linecap="butt"/>
<line x1="167.96" y1="1113.01" x2="174.56" y2="1113.01" stroke="#000" stroke-width="1.2" stroke-linecap="butt"/>
<line x1="185.50" y1="1120.95" x2="185.50" y2="1103.76" stroke="#000" stroke-width="1.2" stroke-linecap="butt"/>
<line x1="182.20" y1="1103.76" x2="188.80" y2="1103.76" stroke="#000" stroke-width="1.2" stroke-linecap="butt"/>
<line x1="199.74" y1="1133.15" x2="199.74" y2="1115.85" stroke="#000" stroke-width="1.2" stroke-linecap="butt"/>
<line x1="196.44" y1="1115.85" x2="203.04" y2="1115.85" stroke="#000" stroke-width="1.2" stroke-linecap="butt"/>
<line x1="213.98" y1="1150.93" x2="213.98" y2="1138.37" stroke="#000" stroke-width="1.2" stroke-linecap="butt"/>
<line x1="210.68" y1="1138.37" x2="217.28" y2="1138.37" stroke="#000" stroke-width="1.2" stroke-linecap="butt"/>
<line x1="242.46" y1="1144.29" x2="242.46" y2="1133.62" stroke="#000" stroke-width="1.2" stroke-linecap="butt"/>
<line x1="239.16" y1="1133.62" x2="245.76" y2="1133.62" stroke="#000" stroke-width="1.2" stroke-linecap="butt"/>
<polyline fill="none" stroke="#000" stroke-width="1.2" stroke-linejoin="round" points="43.10,1175.10 57.34,1174.51 71.58,1175.10 85.82,1174.74 100.06,1174.74 114.30,1174.74 128.54,1174.63 142.78,1173.91 157.02,1134.57 171.26,1133.15 185.50,1120.95 199.74,1133.15 213.98,1150.93 242.46,1144.29"/>
<polygon points="43.10,1179.22 46.91,1172.11 39.29,1172.11" fill="#000"/>
<polygon points="57.34,1178.63 61.15,1171.52 53.53,1171.52" fill="#000"/>
<polygon points="71.58,1179.22 75.39,1172.11 67.77,1172.11" fill="#000"/>
<polygon points="85.82,1178.86 89.63,1171.76 82.01,1171.76" fill="#000"/>
<polygon points="100.06,1178.86 103.87,1171.76 96.25,1171.76" fill="#000"/>
<polygon points="114.30,1178.86 118.11,1171.76 110.49,1171.76" fill="#000"/>
<polygon points="128.54,1178.75 132.35,1171.64 124.73,1171.64" fill="#000"/>
<polygon points="142.78,1178.03 146.59,1170.93 138.97,1170.93" fill="#000"/>
<polygon points="157.02,1138.69 160.83,1131.59 153.21,1131.59" fill="#000"/>
<polygon points="171.26,1137.27 175.07,1130.16 167.45,1130.16" fill="#000"/>
<polygon points="185.50,1125.07 189.31,1117.96 181.69,1117.96" fill="#000"/>
<polygon points="199.74,1137.27 203.55,1130.16 195.93,1130.16" fill="#000"/>
<polygon points="213.98,1155.05 217.79,1147.94 210.17,1147.94" fill="#000"/>
<polygon points="242.46,1148.41 246.27,1141.30 238.65,1141.30" fill="#000"/>
<polyline fill="none" stroke="#000" stroke-width="1.2" stroke-linejoin="round" points="43.10,1175.10 57.34,1174.51 71.58,1175.10 85.82,1174.74 100.06,1174.74 114.30,1174.74 128.54,1174.63 142.78,1173.91 157.02,1171.54 171.26,1169.17 185.50,1172.73 199.74,1170.60 213.98,1173.68 242.46,1173.32"/>
<polygon points="43.10,1170.98 46.91,1178.09 39.29,1178.09" fill="#000"/>
<polygon points="57.34,1170.39 61.15,1177.49 53.53,1177.49" fill="#000"/>
<polygon points="71.58,1170.98 75.39,1178.09 67.77,1178.09" fill="#000"/>
<polygon points="85.82,1170.62 89.63,1177.73 82.01,1177.73" fill="#000"/>
<polygon points="100.06,1170.62 103.87,1177.73 96.25,1177.73" fill="#000"/>
<polygon points="114.30,1170.62 118.11,1177.73 110.49,1177.73" fill="#000"/>
<polygon points="128.54,1170.51 132.35,1177.61 124.73,1177.61" fill="#000"/>
<polygon points="142.78,1169.80 146.59,1176.90 138.97,1176.90" fill="#000"/>
<polygon points="157.02,1167.42 160.83,1174.53 153.21,1174.53" fill="#000"/>
<polygon points="171.26,1165.06 175.07,1172.16 167.45,1172.16" fill="#000"/>
<polygon points="185.50,1168.61 189.31,1175.72 181.69,1175.72" fill="#000"/>
<polygon points="199.74,1166.48 203.55,1173.58 195.93,1173.58" fill="#000"/>
<polygon points="213.98,1169.56 217.79,1176.66 210.17,1176.66" fill="#000"/>
<polygon points="242.46,1169.20 246.27,1176.31 238.65,1176.31" fill="#000"/>
<line x1="157.02" y1="1141.21" x2="157.02" y2="1115.14" stroke="#000" stroke-width="1.2" stroke-linecap="butt"/>
<line x1="153.72" y1="1115.14" x2="160.32" y2="1115.14" stroke="#000" stroke-width="1.2" stroke-linecap="butt"/>
<line x1="171.26" y1="1128.41" x2="171.26" y2="1106.37" stroke="#000" stroke-width="1.2" stroke-linecap="butt"/>
<line x1="167.96" y1="1106.37" x2="174.56" y2="1106.37" stroke="#000" stroke-width="1.2" stroke-linecap="butt"/>
<line x1="185.50" y1="1110.75" x2="185.50" y2="1079.35" stroke="#000" stroke-width="1.2" stroke-linecap="butt"/>
<line x1="182.20" y1="1079.35" x2="188.80" y2="1079.35" stroke="#000" stroke-width="1.2" stroke-linecap="butt"/>
<line x1="199.74" y1="1121.89" x2="199.74" y2="1093.93" stroke="#000" stroke-width="1.2" stroke-linecap="butt"/>
<line x1="196.44" y1="1093.93" x2="203.04" y2="1093.93" stroke="#000" stroke-width="1.2" stroke-linecap="butt"/>
<line x1="213.98" y1="1126.04" x2="213.98" y2="1100.21" stroke="#000" stroke-width="1.2" stroke-linecap="butt"/>
<line x1="210.68" y1="1100.21" x2="217.28" y2="1100.21" stroke="#000" stroke-width="1.2" stroke-linecap="butt"/>
<line x1="242.46" y1="1127.70" x2="242.46" y2="1106.37" stroke="#000" stroke-width="1.2" stroke-linecap="butt"/>
<line x1="239.16" y1="1106.37" x2="245.76" y2="1106.37" stroke="#000" stroke-width="1.2" stroke-linecap="butt"/>
<polyline fill="none" stroke="#000" stroke-width="1.2" stroke-linejoin="round" points="43.10,1175.10 57.34,1173.91 71.58,1175.10 85.82,1174.51 100.06,1174.74 114.30,1174.74 128.54,1174.39 142.78,1173.32 157.02,1141.21 171.26,1128.41 185.50,1110.75 199.74,1121.89 213.98,1126.04 242.46,1127.70"/>
<rect x="39.55" y="1171.55" width="7.11" height="7.11" fill="#000"/>
<rect x="53.79" y="1170.36" width="7.11" height="7.11" fill="#000"/>
<rect x="68.03" y="1171.55" width="7.11" height="7.11" fill="#000"/>
<rect x="82.27" y="1170.95" width="7.11" height="7.11" fill="#000"/>
<rect x="96.51" y="1171.19" width="7.11" height="7.11" fill="#000"/>
<rect x="110.75" y="1171.19" width="7.11" height="7.11" fill="#000"/>
<rect x="124.99" y="1170.84" width="7.11" height="7.11" fill="#000"/>
<rect x="139.23" y="1169.77" width="7.11" height="7.11" fill="#000"/>
<rect x="153.47" y="1137.66" width="7.11" height="7.11" fill="#000"/>
<rect x="167.71" y="1124.86" width="7.11" height="7.11" fill="#000"/>
<rect x="181.95" y="1107.20" width="7.11" height="7.11" fill="#000"/>
<rect x="196.19" y="1118.34" width="7.11" height="7.11" fill="#000"/>
<rect x="210.43" y="1122.49" width="7.11" height="7.11" fill="#000"/>
<rect x="238.91" y="1124.15" width="7.11" height="7.11" fill="#000"/>
<polyline fill="none" stroke="#000" stroke-width="1.2" stroke-linejoin="round" points="43.10,1175.10 57.34,1174.51 71.58,1175.10 85.82,1174.74 100.06,1174.74 114.30,1174.74 128.54,1174.63 142.78,1174.15 157.02,1174.51 171.26,1173.91 185.50,1173.91 199.74,1174.51 213.98,1175.69 242.46,1176.76"/>
<circle cx="43.10" cy="1175.10" r="3.50" fill="#000"/>
<circle cx="57.34" cy="1174.51" r="3.50" fill="#000"/>
<circle cx="71.58" cy="1175.10" r="3.50" fill="#000"/>
<circle cx="85.82" cy="1174.74" r="3.50" fill="#000"/>
<circle cx="100.06" cy="1174.74" r="3.50" fill="#000"/>
<circle cx="114.30" cy="1174.74" r="3.50" fill="#000"/>
<circle cx="128.54" cy="1174.63" r="3.50" fill="#000"/>
<circle cx="142.78" cy="1174.15" r="3.50" fill="#000"/>
<circle cx="157.02" cy="1174.51" r="3.50" fill="#000"/>
<circle cx="171.26" cy="1173.91" r="3.50" fill="#000"/>
<circle cx="185.50" cy="1173.91" r="3.50" fill="#000"/>
<circle cx="199.74" cy="1174.51" r="3.50" fill="#000"/>
<circle cx="213.98" cy="1175.69" r="3.50" fill="#000"/>
<circle cx="242.46" cy="1176.76" r="3.50" fill="#000"/>
<line x1="395.60" y1="219.49" x2="395.60" y2="217.20" stroke="#000" stroke-width="1.1" stroke-linecap="butt"/>
<line x1="390.60" y1="217.20" x2="400.60" y2="217.20" stroke="#000" stroke-width="1.2" stroke-linecap="butt"/>
<rect x="385.65" y="220.14" width="19.90" height="13.26" fill="#a6a6a6" stroke="#000" stroke-width="1.3"/>
<line x1="426.80" y1="68.98" x2="426.80" y2="57.69" stroke="#000" stroke-width="1.1" stroke-linecap="butt"/>
<line x1="421.80" y1="57.69" x2="431.80" y2="57.69" stroke="#000" stroke-width="1.2" stroke-linecap="butt"/>
<rect x="416.85" y="69.63" width="19.90" height="163.77" fill="#ffffff" stroke="#000" stroke-width="1.3"/>
<line x1="458.30" y1="149.15" x2="458.30" y2="142.77" stroke="#000" stroke-width="1.1" stroke-linecap="butt"/>
<line x1="453.30" y1="142.77" x2="463.30" y2="142.77" stroke="#000" stroke-width="1.2" stroke-linecap="butt"/>
<rect x="448.35" y="149.80" width="19.90" height="83.60" fill="#222222" stroke="#000" stroke-width="1.3"/>
<line x1="489.00" y1="108.41" x2="489.00" y2="94.50" stroke="#000" stroke-width="1.1" stroke-linecap="butt"/>
<line x1="484.00" y1="94.50" x2="494.00" y2="94.50" stroke="#000" stroke-width="1.2" stroke-linecap="butt"/>
<rect x="479.05" y="109.06" width="19.90" height="124.34" fill="#000" stroke="#000" stroke-width="1.3"/>
<line x1="520.20" y1="116.26" x2="520.20" y2="101.37" stroke="#000" stroke-width="1.1" stroke-linecap="butt"/>
<line x1="515.20" y1="101.37" x2="525.20" y2="101.37" stroke="#000" stroke-width="1.2" stroke-linecap="butt"/>
<rect x="510.25" y="116.91" width="19.90" height="116.49" fill="#000" stroke="#000" stroke-width="1.3"/>
<line x1="551.60" y1="164.52" x2="551.60" y2="157.49" stroke="#000" stroke-width="1.1" stroke-linecap="butt"/>
<line x1="546.60" y1="157.49" x2="556.60" y2="157.49" stroke="#000" stroke-width="1.2" stroke-linecap="butt"/>
<rect x="541.65" y="165.17" width="19.90" height="68.23" fill="#000" stroke="#000" stroke-width="1.3"/>
<line x1="603.30" y1="220.31" x2="603.30" y2="218.35" stroke="#000" stroke-width="1.1" stroke-linecap="butt"/>
<line x1="598.30" y1="218.35" x2="608.30" y2="218.35" stroke="#000" stroke-width="1.2" stroke-linecap="butt"/>
<rect x="593.35" y="220.96" width="19.90" height="12.44" fill="#a6a6a6" stroke="#000" stroke-width="1.3"/>
<line x1="634.60" y1="67.35" x2="634.60" y2="60.64" stroke="#000" stroke-width="1.1" stroke-linecap="butt"/>
<line x1="629.60" y1="60.64" x2="639.60" y2="60.64" stroke="#000" stroke-width="1.2" stroke-linecap="butt"/>
<rect x="624.65" y="68.00" width="19.90" height="165.40" fill="#ffffff" stroke="#000" stroke-width="1.3"/>
<line x1="666.10" y1="188.41" x2="666.10" y2="185.96" stroke="#000" stroke-width="1.1" stroke-linecap="butt"/>
<line x1="661.10" y1="185.96" x2="671.10" y2="185.96" stroke="#000" stroke-width="1.2" stroke-linecap="butt"/>
<rect x="656.15" y="189.06" width="19.90" height="44.34" fill="#222222" stroke="#000" stroke-width="1.3"/>
<line x1="697.30" y1="158.47" x2="697.30" y2="143.91" stroke="#000" stroke-width="1.1" stroke-linecap="butt"/>
<line x1="692.30" y1="143.91" x2="702.30" y2="143.91" stroke="#000" stroke-width="1.2" stroke-linecap="butt"/>
<rect x="687.35" y="159.12" width="19.90" height="74.28" fill="#000" stroke="#000" stroke-width="1.3"/>
<line x1="728.50" y1="176.14" x2="728.50" y2="163.05" stroke="#000" stroke-width="1.1" stroke-linecap="butt"/>
<line x1="723.50" y1="163.05" x2="733.50" y2="163.05" stroke="#000" stroke-width="1.2" stroke-linecap="butt"/>
<rect x="718.55" y="176.79" width="19.90" height="56.61" fill="#000" stroke="#000" stroke-width="1.3"/>
<line x1="759.60" y1="221.13" x2="759.60" y2="216.88" stroke="#000" stroke-width="1.1" stroke-linecap="butt"/>
<line x1="754.60" y1="216.88" x2="764.60" y2="216.88" stroke="#000" stroke-width="1.2" stroke-linecap="butt"/>
<rect x="749.65" y="221.78" width="19.90" height="11.62" fill="#000" stroke="#000" stroke-width="1.3"/>
<line x1="369.20" y1="36.08" x2="369.20" y2="234.40" stroke="#000" stroke-width="2.0" stroke-linecap="butt"/>
<line x1="368.20" y1="233.40" x2="786.40" y2="233.40" stroke="#000" stroke-width="2.0" stroke-linecap="butt"/>
<line x1="364.60" y1="233.40" x2="369.20" y2="233.40" stroke="#000" stroke-width="2.0" stroke-linecap="butt"/>
<text x="363.20" y="238.52" font-size="13.2" font-weight="bold" text-anchor="end" stroke="#000" stroke-width="0.35" textLength="5.8" lengthAdjust="spacingAndGlyphs" >0</text>
<line x1="364.60" y1="200.68" x2="369.20" y2="200.68" stroke="#000" stroke-width="2.0" stroke-linecap="butt"/>
<text x="363.20" y="205.80" font-size="13.2" font-weight="bold" text-anchor="end" stroke="#000" stroke-width="0.35" textLength="11.6" lengthAdjust="spacingAndGlyphs" >20</text>
<line x1="364.60" y1="167.96" x2="369.20" y2="167.96" stroke="#000" stroke-width="2.0" stroke-linecap="butt"/>
<text x="363.20" y="173.08" font-size="13.2" font-weight="bold" text-anchor="end" stroke="#000" stroke-width="0.35" textLength="11.6" lengthAdjust="spacingAndGlyphs" >40</text>
<line x1="364.60" y1="135.24" x2="369.20" y2="135.24" stroke="#000" stroke-width="2.0" stroke-linecap="butt"/>
<text x="363.20" y="140.36" font-size="13.2" font-weight="bold" text-anchor="end" stroke="#000" stroke-width="0.35" textLength="11.6" lengthAdjust="spacingAndGlyphs" >60</text>
<line x1="364.60" y1="102.52" x2="369.20" y2="102.52" stroke="#000" stroke-width="2.0" stroke-linecap="butt"/>
<text x="363.20" y="107.64" font-size="13.2" font-weight="bold" text-anchor="end" stroke="#000" stroke-width="0.35" textLength="11.6" lengthAdjust="spacingAndGlyphs" >80</text>
<line x1="364.60" y1="69.80" x2="369.20" y2="69.80" stroke="#000" stroke-width="2.0" stroke-linecap="butt"/>
<text x="363.20" y="74.92" font-size="13.2" font-weight="bold" text-anchor="end" stroke="#000" stroke-width="0.35" textLength="17.5" lengthAdjust="spacingAndGlyphs" >100</text>
<line x1="364.60" y1="37.08" x2="369.20" y2="37.08" stroke="#000" stroke-width="2.0" stroke-linecap="butt"/>
<text x="363.20" y="42.20" font-size="13.2" font-weight="bold" text-anchor="end" stroke="#000" stroke-width="0.35" textLength="17.5" lengthAdjust="spacingAndGlyphs" >120</text>
<text x="326.00" y="134.30" font-size="13.2" font-weight="bold" text-anchor="middle" stroke="#000" stroke-width="0.35" transform="rotate(-90 326.00 134.30)" textLength="141.0" lengthAdjust="spacingAndGlyphs" >Total edema response (AUC)</text>
<text x="340.00" y="135.00" font-size="13.2" font-weight="bold" text-anchor="middle" stroke="#000" stroke-width="0.35" transform="rotate(-90 340.00 135.00)" textLength="169.7" lengthAdjust="spacingAndGlyphs" xml:space="preserve">as % of the mean  control response</text>
<text x="308.50" y="17.90" font-size="28" font-weight="bold" text-anchor="start" stroke="#000" stroke-width="0.35" >B</text>
<text x="395.60" y="251.12" font-size="13.2" font-weight="bold" text-anchor="middle" stroke="#000" stroke-width="0.35" textLength="18.2" lengthAdjust="spacingAndGlyphs" >IFA</text>
<text x="426.80" y="251.12" font-size="13.2" font-weight="bold" text-anchor="middle" stroke="#000" stroke-width="0.35" textLength="21.9" lengthAdjust="spacingAndGlyphs" >CFA</text>
<text x="458.30" y="251.12" font-size="13.2" font-weight="bold" text-anchor="middle" stroke="#000" stroke-width="0.35" textLength="23.3" lengthAdjust="spacingAndGlyphs" >DEX</text>
<text x="489.00" y="251.12" font-size="13.2" font-weight="bold" text-anchor="middle" stroke="#000" stroke-width="0.35" textLength="11.0" lengthAdjust="spacingAndGlyphs" >50</text>
<text x="520.20" y="251.12" font-size="13.2" font-weight="bold" text-anchor="middle" stroke="#000" stroke-width="0.35" textLength="16.6" lengthAdjust="spacingAndGlyphs" >200</text>
<text x="551.60" y="251.12" font-size="13.2" font-weight="bold" text-anchor="middle" stroke="#000" stroke-width="0.35" textLength="16.6" lengthAdjust="spacingAndGlyphs" >500</text>
<line x1="481.30" y1="259.20" x2="560.00" y2="259.20" stroke="#000" stroke-width="1.0" stroke-linecap="butt"/>
<text x="527.00" y="274.02" font-size="13.2" font-weight="bold" text-anchor="middle" stroke="#000" stroke-width="0.35" textLength="63.4" lengthAdjust="spacingAndGlyphs" >HFE (mg/kg)</text>
<line x1="379.00" y1="284.30" x2="560.00" y2="284.30" stroke="#000" stroke-width="0.8" stroke-linecap="butt"/>
<text x="470.60" y="296.72" font-size="13.2" font-weight="bold" text-anchor="middle" stroke="#000" stroke-width="0.35" textLength="77.2" lengthAdjust="spacingAndGlyphs" >ACUTE PHASE</text>
<text x="603.30" y="251.12" font-size="13.2" font-weight="bold" text-anchor="middle" stroke="#000" stroke-width="0.35" textLength="18.2" lengthAdjust="spacingAndGlyphs" >IFA</text>
<text x="634.60" y="251.12" font-size="13.2" font-weight="bold" text-anchor="middle" stroke="#000" stroke-width="0.35" textLength="21.9" lengthAdjust="spacingAndGlyphs" >CFA</text>
<text x="666.10" y="251.12" font-size="13.2" font-weight="bold" text-anchor="middle" stroke="#000" stroke-width="0.35" textLength="23.3" lengthAdjust="spacingAndGlyphs" >DEX</text>
<text x="697.30" y="251.12" font-size="13.2" font-weight="bold" text-anchor="middle" stroke="#000" stroke-width="0.35" textLength="11.0" lengthAdjust="spacingAndGlyphs" >50</text>
<text x="728.50" y="251.12" font-size="13.2" font-weight="bold" text-anchor="middle" stroke="#000" stroke-width="0.35" textLength="16.6" lengthAdjust="spacingAndGlyphs" >200</text>
<text x="759.60" y="251.12" font-size="13.2" font-weight="bold" text-anchor="middle" stroke="#000" stroke-width="0.35" textLength="16.6" lengthAdjust="spacingAndGlyphs" >500</text>
<line x1="690.30" y1="259.20" x2="770.30" y2="259.20" stroke="#000" stroke-width="1.0" stroke-linecap="butt"/>
<text x="732.00" y="274.02" font-size="13.2" font-weight="bold" text-anchor="middle" stroke="#000" stroke-width="0.35" textLength="62.8" lengthAdjust="spacingAndGlyphs" >HFE (mg/kg)</text>
<line x1="599.10" y1="282.60" x2="789.00" y2="282.60" stroke="#000" stroke-width="1.3" stroke-linecap="butt"/>
<text x="701.20" y="296.72" font-size="13.2" font-weight="bold" text-anchor="middle" stroke="#000" stroke-width="0.35" textLength="126.0" lengthAdjust="spacingAndGlyphs" >POLYARTHRITIS PHASE</text>
<text x="458.30" y="139.50" font-size="13" font-weight="bold" text-anchor="middle" stroke="#000" stroke-width="0.35" textLength="12.0" lengthAdjust="spacingAndGlyphs" >**</text>
<text x="551.60" y="154.30" font-size="13" font-weight="bold" text-anchor="middle" stroke="#000" stroke-width="0.35" textLength="12.0" lengthAdjust="spacingAndGlyphs" >**</text>
<text x="714.70" y="128.20" font-size="13" font-weight="bold" text-anchor="middle" stroke="#000" stroke-width="0.35" textLength="24.0" lengthAdjust="spacingAndGlyphs" >****</text>
<line x1="656.70" y1="128.00" x2="767.50" y2="128.00" stroke="#000" stroke-width="1.0" stroke-linecap="butt"/>
<line x1="390.20" y1="384.36" x2="390.20" y2="383.41" stroke="#000" stroke-width="1.1" stroke-linecap="butt"/>
<line x1="385.20" y1="383.41" x2="395.20" y2="383.41" stroke="#000" stroke-width="1.2" stroke-linecap="butt"/>
<rect x="380.05" y="385.11" width="20.30" height="131.39" fill="#a6a6a6" stroke="#000" stroke-width="1.5"/>
<line x1="390.20" y1="516.50" x2="390.20" y2="520.70" stroke="#000" stroke-width="1.8" stroke-linecap="butt"/>
<line x1="421.60" y1="381.25" x2="421.60" y2="380.17" stroke="#000" stroke-width="1.1" stroke-linecap="butt"/>
<line x1="416.60" y1="380.17" x2="426.60" y2="380.17" stroke="#000" stroke-width="1.2" stroke-linecap="butt"/>
<rect x="411.45" y="382.00" width="20.30" height="134.50" fill="#ffffff" stroke="#000" stroke-width="1.5"/>
<line x1="421.60" y1="516.50" x2="421.60" y2="520.70" stroke="#000" stroke-width="1.8" stroke-linecap="butt"/>
<line x1="453.10" y1="383.55" x2="453.10" y2="382.60" stroke="#000" stroke-width="1.1" stroke-linecap="butt"/>
<line x1="448.10" y1="382.60" x2="458.10" y2="382.60" stroke="#000" stroke-width="1.2" stroke-linecap="butt"/>
<rect x="442.95" y="384.30" width="20.30" height="132.20" fill="#222222" stroke="#000" stroke-width="1.5"/>
<line x1="453.10" y1="516.50" x2="453.10" y2="520.70" stroke="#000" stroke-width="1.8" stroke-linecap="butt"/>
<line x1="484.80" y1="381.25" x2="484.80" y2="379.36" stroke="#000" stroke-width="1.1" stroke-linecap="butt"/>
<line x1="479.80" y1="379.36" x2="489.80" y2="379.36" stroke="#000" stroke-width="1.2" stroke-linecap="butt"/>
<rect x="474.65" y="382.00" width="20.30" height="134.50" fill="#000" stroke="#000" stroke-width="1.5"/>
<line x1="484.80" y1="516.50" x2="484.80" y2="520.70" stroke="#000" stroke-width="1.8" stroke-linecap="butt"/>
<line x1="516.20" y1="383.95" x2="516.20" y2="381.25" stroke="#000" stroke-width="1.1" stroke-linecap="butt"/>
<line x1="511.20" y1="381.25" x2="521.20" y2="381.25" stroke="#000" stroke-width="1.2" stroke-linecap="butt"/>
<rect x="506.05" y="384.70" width="20.30" height="131.80" fill="#000" stroke="#000" stroke-width="1.5"/>
<line x1="516.20" y1="516.50" x2="516.20" y2="520.70" stroke="#000" stroke-width="1.8" stroke-linecap="butt"/>
<line x1="547.80" y1="387.20" x2="547.80" y2="386.25" stroke="#000" stroke-width="1.1" stroke-linecap="butt"/>
<line x1="542.80" y1="386.25" x2="552.80" y2="386.25" stroke="#000" stroke-width="1.2" stroke-linecap="butt"/>
<rect x="537.65" y="387.95" width="20.30" height="128.55" fill="#000" stroke="#000" stroke-width="1.5"/>
<line x1="547.80" y1="516.50" x2="547.80" y2="520.70" stroke="#000" stroke-width="1.8" stroke-linecap="butt"/>
<line x1="600.40" y1="502.57" x2="600.40" y2="501.35" stroke="#000" stroke-width="1.1" stroke-linecap="butt"/>
<line x1="595.40" y1="501.35" x2="605.40" y2="501.35" stroke="#000" stroke-width="1.2" stroke-linecap="butt"/>
<rect x="590.25" y="503.32" width="20.30" height="13.18" fill="#a6a6a6" stroke="#000" stroke-width="1.5"/>
<line x1="600.40" y1="516.50" x2="600.40" y2="520.70" stroke="#000" stroke-width="1.8" stroke-linecap="butt"/>
<line x1="632.00" y1="381.25" x2="632.00" y2="374.22" stroke="#000" stroke-width="1.1" stroke-linecap="butt"/>
<line x1="627.00" y1="374.22" x2="637.00" y2="374.22" stroke="#000" stroke-width="1.2" stroke-linecap="butt"/>
<rect x="621.85" y="382.00" width="20.30" height="134.50" fill="#ffffff" stroke="#000" stroke-width="1.5"/>
<line x1="632.00" y1="516.50" x2="632.00" y2="520.70" stroke="#000" stroke-width="1.8" stroke-linecap="butt"/>
<line x1="663.40" y1="448.60" x2="663.40" y2="444.82" stroke="#000" stroke-width="1.1" stroke-linecap="butt"/>
<line x1="658.40" y1="444.82" x2="668.40" y2="444.82" stroke="#000" stroke-width="1.2" stroke-linecap="butt"/>
<rect x="653.25" y="449.35" width="20.30" height="67.15" fill="#222222" stroke="#000" stroke-width="1.5"/>
<line x1="663.40" y1="516.50" x2="663.40" y2="520.70" stroke="#000" stroke-width="1.8" stroke-linecap="butt"/>
<line x1="695.00" y1="425.07" x2="695.00" y2="416.01" stroke="#000" stroke-width="1.1" stroke-linecap="butt"/>
<line x1="690.00" y1="416.01" x2="700.00" y2="416.01" stroke="#000" stroke-width="1.2" stroke-linecap="butt"/>
<rect x="684.85" y="425.82" width="20.30" height="90.68" fill="#000" stroke="#000" stroke-width="1.5"/>
<line x1="695.00" y1="516.50" x2="695.00" y2="520.70" stroke="#000" stroke-width="1.8" stroke-linecap="butt"/>
<line x1="726.30" y1="439.00" x2="726.30" y2="428.86" stroke="#000" stroke-width="1.1" stroke-linecap="butt"/>
<line x1="721.30" y1="428.86" x2="731.30" y2="428.86" stroke="#000" stroke-width="1.2" stroke-linecap="butt"/>
<rect x="716.15" y="439.75" width="20.30" height="76.75" fill="#000" stroke="#000" stroke-width="1.5"/>
<line x1="726.30" y1="516.50" x2="726.30" y2="520.70" stroke="#000" stroke-width="1.8" stroke-linecap="butt"/>
<line x1="758.00" y1="508.93" x2="758.00" y2="506.36" stroke="#000" stroke-width="1.1" stroke-linecap="butt"/>
<line x1="753.00" y1="506.36" x2="763.00" y2="506.36" stroke="#000" stroke-width="1.2" stroke-linecap="butt"/>
<rect x="747.85" y="509.68" width="20.30" height="6.82" fill="#000" stroke="#000" stroke-width="1.5"/>
<line x1="758.00" y1="516.50" x2="758.00" y2="520.70" stroke="#000" stroke-width="1.8" stroke-linecap="butt"/>
<line x1="364.00" y1="353.10" x2="364.00" y2="517.60" stroke="#000" stroke-width="2.2" stroke-linecap="butt"/>
<line x1="362.90" y1="516.50" x2="785.00" y2="516.50" stroke="#000" stroke-width="2.2" stroke-linecap="butt"/>
<line x1="359.40" y1="516.50" x2="364.00" y2="516.50" stroke="#000" stroke-width="2.2" stroke-linecap="butt"/>
<text x="358.00" y="520.68" font-size="11" font-weight="bold" text-anchor="end" stroke="#000" stroke-width="0.35" textLength="5.4" lengthAdjust="spacingAndGlyphs" >0</text>
<line x1="359.40" y1="489.45" x2="364.00" y2="489.45" stroke="#000" stroke-width="2.2" stroke-linecap="butt"/>
<text x="358.00" y="493.63" font-size="11" font-weight="bold" text-anchor="end" stroke="#000" stroke-width="0.35" textLength="10.8" lengthAdjust="spacingAndGlyphs" >20</text>
<line x1="359.40" y1="462.40" x2="364.00" y2="462.40" stroke="#000" stroke-width="2.2" stroke-linecap="butt"/>
<text x="358.00" y="466.58" font-size="11" font-weight="bold" text-anchor="end" stroke="#000" stroke-width="0.35" textLength="10.8" lengthAdjust="spacingAndGlyphs" >40</text>
<line x1="359.40" y1="435.35" x2="364.00" y2="435.35" stroke="#000" stroke-width="2.2" stroke-linecap="butt"/>
<text x="358.00" y="439.54" font-size="11" font-weight="bold" text-anchor="end" stroke="#000" stroke-width="0.35" textLength="10.8" lengthAdjust="spacingAndGlyphs" >60</text>
<line x1="359.40" y1="408.30" x2="364.00" y2="408.30" stroke="#000" stroke-width="2.2" stroke-linecap="butt"/>
<text x="358.00" y="412.49" font-size="11" font-weight="bold" text-anchor="end" stroke="#000" stroke-width="0.35" textLength="10.8" lengthAdjust="spacingAndGlyphs" >80</text>
<line x1="359.40" y1="381.25" x2="364.00" y2="381.25" stroke="#000" stroke-width="2.2" stroke-linecap="butt"/>
<text x="358.00" y="385.44" font-size="11" font-weight="bold" text-anchor="end" stroke="#000" stroke-width="0.35" textLength="16.2" lengthAdjust="spacingAndGlyphs" >100</text>
<line x1="359.40" y1="354.20" x2="364.00" y2="354.20" stroke="#000" stroke-width="2.2" stroke-linecap="butt"/>
<text x="358.00" y="358.38" font-size="11" font-weight="bold" text-anchor="end" stroke="#000" stroke-width="0.35" textLength="16.2" lengthAdjust="spacingAndGlyphs" >120</text>
<text x="326.00" y="435.00" font-size="13.2" font-weight="bold" text-anchor="middle" stroke="#000" stroke-width="0.35" transform="rotate(-90 326.00 435.00)" textLength="118.0" lengthAdjust="spacingAndGlyphs" >Total edema response (AUC)</text>
<text x="338.90" y="435.00" font-size="13.2" font-weight="bold" text-anchor="middle" stroke="#000" stroke-width="0.35" transform="rotate(-90 338.90 435.00)" textLength="143.8" lengthAdjust="spacingAndGlyphs" xml:space="preserve">as % of the mean  control response</text>
<text x="309.00" y="335.20" font-size="28" font-weight="bold" text-anchor="start" stroke="#000" stroke-width="0.35" >D</text>
<text x="390.20" y="530.65" font-size="10" font-weight="bold" text-anchor="middle" stroke="#000" stroke-width="0.35" textLength="18.3" lengthAdjust="spacingAndGlyphs" >IFA</text>
<text x="421.60" y="530.65" font-size="10" font-weight="bold" text-anchor="middle" stroke="#000" stroke-width="0.35" textLength="22.0" lengthAdjust="spacingAndGlyphs" >CFA</text>
<text x="453.10" y="530.65" font-size="10" font-weight="bold" text-anchor="middle" stroke="#000" stroke-width="0.35" textLength="23.4" lengthAdjust="spacingAndGlyphs" >DEX</text>
<text x="484.80" y="530.65" font-size="10" font-weight="bold" text-anchor="middle" stroke="#000" stroke-width="0.35" textLength="11.1" lengthAdjust="spacingAndGlyphs" >50</text>
<text x="516.20" y="530.65" font-size="10" font-weight="bold" text-anchor="middle" stroke="#000" stroke-width="0.35" textLength="16.7" lengthAdjust="spacingAndGlyphs" >200</text>
<text x="547.80" y="530.65" font-size="10" font-weight="bold" text-anchor="middle" stroke="#000" stroke-width="0.35" textLength="16.7" lengthAdjust="spacingAndGlyphs" >500</text>
<line x1="479.40" y1="534.40" x2="553.00" y2="534.40" stroke="#000" stroke-width="1.5" stroke-linecap="butt"/>
<text x="511.60" y="545.15" font-size="10" font-weight="bold" text-anchor="middle" stroke="#000" stroke-width="0.35" textLength="60.8" lengthAdjust="spacingAndGlyphs" >HFE (mg/kg)</text>
<line x1="370.60" y1="558.00" x2="566.00" y2="558.00" stroke="#000" stroke-width="1.5" stroke-linecap="butt"/>
<text x="484.70" y="573.75" font-size="10" font-weight="bold" text-anchor="middle" stroke="#000" stroke-width="0.35" textLength="73.9" lengthAdjust="spacingAndGlyphs" >ACUTE PHASE</text>
<text x="600.40" y="530.65" font-size="10" font-weight="bold" text-anchor="middle" stroke="#000" stroke-width="0.35" textLength="18.3" lengthAdjust="spacingAndGlyphs" >IFA</text>
<text x="632.00" y="530.65" font-size="10" font-weight="bold" text-anchor="middle" stroke="#000" stroke-width="0.35" textLength="22.0" lengthAdjust="spacingAndGlyphs" >CFA</text>
<text x="663.40" y="530.65" font-size="10" font-weight="bold" text-anchor="middle" stroke="#000" stroke-width="0.35" textLength="23.4" lengthAdjust="spacingAndGlyphs" >DEX</text>
<text x="695.00" y="530.65" font-size="10" font-weight="bold" text-anchor="middle" stroke="#000" stroke-width="0.35" textLength="11.1" lengthAdjust="spacingAndGlyphs" >50</text>
<text x="726.30" y="530.65" font-size="10" font-weight="bold" text-anchor="middle" stroke="#000" stroke-width="0.35" textLength="16.7" lengthAdjust="spacingAndGlyphs" >200</text>
<text x="758.00" y="530.65" font-size="10" font-weight="bold" text-anchor="middle" stroke="#000" stroke-width="0.35" textLength="16.7" lengthAdjust="spacingAndGlyphs" >500</text>
<line x1="692.00" y1="534.40" x2="765.50" y2="534.40" stroke="#000" stroke-width="1.5" stroke-linecap="butt"/>
<text x="728.40" y="545.15" font-size="10" font-weight="bold" text-anchor="middle" stroke="#000" stroke-width="0.35" textLength="60.9" lengthAdjust="spacingAndGlyphs" >HFE (mg/kg)</text>
<line x1="590.50" y1="557.10" x2="789.00" y2="557.10" stroke="#000" stroke-width="1.5" stroke-linecap="butt"/>
<text x="684.40" y="573.75" font-size="10" font-weight="bold" text-anchor="middle" stroke="#000" stroke-width="0.35" textLength="120.0" lengthAdjust="spacingAndGlyphs" >POLYARTHRITIS PHASE</text>
<text x="663.40" y="444.00" font-size="11" font-weight="bold" text-anchor="middle" stroke="#000" stroke-width="0.35" textLength="25.2" lengthAdjust="spacingAndGlyphs" >****</text>
<text x="695.00" y="412.70" font-size="11" font-weight="bold" text-anchor="middle" stroke="#000" stroke-width="0.35" textLength="12.6" lengthAdjust="spacingAndGlyphs" >**</text>
<text x="726.30" y="426.40" font-size="11" font-weight="bold" text-anchor="middle" stroke="#000" stroke-width="0.35" textLength="25.2" lengthAdjust="spacingAndGlyphs" >****</text>
<text x="758.00" y="503.50" font-size="11" font-weight="bold" text-anchor="middle" stroke="#000" stroke-width="0.35" textLength="25.2" lengthAdjust="spacingAndGlyphs" >****</text>
<line x1="394.50" y1="850.19" x2="394.50" y2="847.43" stroke="#000" stroke-width="1.1" stroke-linecap="butt"/>
<line x1="389.50" y1="847.43" x2="399.50" y2="847.43" stroke="#000" stroke-width="1.2" stroke-linecap="butt"/>
<rect x="385.00" y="850.89" width="19.00" height="14.61" fill="#a6a6a6" stroke="#000" stroke-width="1.4"/>
<line x1="424.60" y1="682.02" x2="424.60" y2="671.33" stroke="#000" stroke-width="1.1" stroke-linecap="butt"/>
<line x1="419.60" y1="671.33" x2="429.60" y2="671.33" stroke="#000" stroke-width="1.2" stroke-linecap="butt"/>
<rect x="415.10" y="682.72" width="19.00" height="182.78" fill="#ffffff" stroke="#000" stroke-width="1.4"/>
<line x1="454.30" y1="690.87" x2="454.30" y2="675.94" stroke="#000" stroke-width="1.1" stroke-linecap="butt"/>
<line x1="449.30" y1="675.94" x2="459.30" y2="675.94" stroke="#000" stroke-width="1.2" stroke-linecap="butt"/>
<rect x="444.80" y="691.57" width="19.00" height="173.93" fill="#222222" stroke="#000" stroke-width="1.4"/>
<line x1="484.30" y1="687.92" x2="484.30" y2="675.01" stroke="#000" stroke-width="1.1" stroke-linecap="butt"/>
<line x1="479.30" y1="675.01" x2="489.30" y2="675.01" stroke="#000" stroke-width="1.2" stroke-linecap="butt"/>
<rect x="474.80" y="688.62" width="19.00" height="176.88" fill="#000" stroke="#000" stroke-width="1.4"/>
<line x1="514.10" y1="687.55" x2="514.10" y2="674.83" stroke="#000" stroke-width="1.1" stroke-linecap="butt"/>
<line x1="509.10" y1="674.83" x2="519.10" y2="674.83" stroke="#000" stroke-width="1.2" stroke-linecap="butt"/>
<rect x="504.60" y="688.25" width="19.00" height="177.25" fill="#000" stroke="#000" stroke-width="1.4"/>
<line x1="543.90" y1="692.35" x2="543.90" y2="676.49" stroke="#000" stroke-width="1.1" stroke-linecap="butt"/>
<line x1="538.90" y1="676.49" x2="548.90" y2="676.49" stroke="#000" stroke-width="1.2" stroke-linecap="butt"/>
<rect x="534.40" y="693.05" width="19.00" height="172.45" fill="#000" stroke="#000" stroke-width="1.4"/>
<line x1="593.70" y1="848.35" x2="593.70" y2="845.77" stroke="#000" stroke-width="1.1" stroke-linecap="butt"/>
<line x1="588.70" y1="845.77" x2="598.70" y2="845.77" stroke="#000" stroke-width="1.2" stroke-linecap="butt"/>
<rect x="584.20" y="849.05" width="19.00" height="16.45" fill="#a6a6a6" stroke="#000" stroke-width="1.4"/>
<line x1="623.80" y1="685.16" x2="623.80" y2="674.46" stroke="#000" stroke-width="1.1" stroke-linecap="butt"/>
<line x1="618.80" y1="674.46" x2="628.80" y2="674.46" stroke="#000" stroke-width="1.2" stroke-linecap="butt"/>
<rect x="614.30" y="685.86" width="19.00" height="179.64" fill="#ffffff" stroke="#000" stroke-width="1.4"/>
<line x1="653.70" y1="817.37" x2="653.70" y2="810.55" stroke="#000" stroke-width="1.1" stroke-linecap="butt"/>
<line x1="648.70" y1="810.55" x2="658.70" y2="810.55" stroke="#000" stroke-width="1.2" stroke-linecap="butt"/>
<rect x="644.20" y="818.07" width="19.00" height="47.43" fill="#222222" stroke="#000" stroke-width="1.4"/>
<line x1="683.80" y1="744.72" x2="683.80" y2="735.50" stroke="#000" stroke-width="1.1" stroke-linecap="butt"/>
<line x1="678.80" y1="735.50" x2="688.80" y2="735.50" stroke="#000" stroke-width="1.2" stroke-linecap="butt"/>
<rect x="674.30" y="745.42" width="19.00" height="120.08" fill="#000" stroke="#000" stroke-width="1.4"/>
<line x1="713.90" y1="793.95" x2="713.90" y2="784.73" stroke="#000" stroke-width="1.1" stroke-linecap="butt"/>
<line x1="708.90" y1="784.73" x2="718.90" y2="784.73" stroke="#000" stroke-width="1.2" stroke-linecap="butt"/>
<rect x="704.40" y="794.65" width="19.00" height="70.85" fill="#000" stroke="#000" stroke-width="1.4"/>
<line x1="743.90" y1="826.59" x2="743.90" y2="821.61" stroke="#000" stroke-width="1.1" stroke-linecap="butt"/>
<line x1="738.90" y1="821.61" x2="748.90" y2="821.61" stroke="#000" stroke-width="1.2" stroke-linecap="butt"/>
<rect x="734.40" y="827.29" width="19.00" height="38.21" fill="#000" stroke="#000" stroke-width="1.4"/>
<line x1="369.40" y1="643.17" x2="369.40" y2="866.55" stroke="#000" stroke-width="2.1" stroke-linecap="butt"/>
<line x1="368.35" y1="865.50" x2="769.00" y2="865.50" stroke="#000" stroke-width="2.1" stroke-linecap="butt"/>
<line x1="364.80" y1="865.50" x2="369.40" y2="865.50" stroke="#000" stroke-width="2.1" stroke-linecap="butt"/>
<text x="363.40" y="870.62" font-size="13.2" font-weight="bold" text-anchor="end" stroke="#000" stroke-width="0.35" textLength="5.8" lengthAdjust="spacingAndGlyphs" >0</text>
<line x1="364.80" y1="828.62" x2="369.40" y2="828.62" stroke="#000" stroke-width="2.1" stroke-linecap="butt"/>
<text x="363.40" y="833.74" font-size="13.2" font-weight="bold" text-anchor="end" stroke="#000" stroke-width="0.35" textLength="11.6" lengthAdjust="spacingAndGlyphs" >20</text>
<line x1="364.80" y1="791.74" x2="369.40" y2="791.74" stroke="#000" stroke-width="2.1" stroke-linecap="butt"/>
<text x="363.40" y="796.86" font-size="13.2" font-weight="bold" text-anchor="end" stroke="#000" stroke-width="0.35" textLength="11.6" lengthAdjust="spacingAndGlyphs" >40</text>
<line x1="364.80" y1="754.86" x2="369.40" y2="754.86" stroke="#000" stroke-width="2.1" stroke-linecap="butt"/>
<text x="363.40" y="759.98" font-size="13.2" font-weight="bold" text-anchor="end" stroke="#000" stroke-width="0.35" textLength="11.6" lengthAdjust="spacingAndGlyphs" >60</text>
<line x1="364.80" y1="717.98" x2="369.40" y2="717.98" stroke="#000" stroke-width="2.1" stroke-linecap="butt"/>
<text x="363.40" y="723.10" font-size="13.2" font-weight="bold" text-anchor="end" stroke="#000" stroke-width="0.35" textLength="11.6" lengthAdjust="spacingAndGlyphs" >80</text>
<line x1="364.80" y1="681.10" x2="369.40" y2="681.10" stroke="#000" stroke-width="2.1" stroke-linecap="butt"/>
<text x="363.40" y="686.22" font-size="13.2" font-weight="bold" text-anchor="end" stroke="#000" stroke-width="0.35" textLength="17.5" lengthAdjust="spacingAndGlyphs" >100</text>
<line x1="364.80" y1="644.22" x2="369.40" y2="644.22" stroke="#000" stroke-width="2.1" stroke-linecap="butt"/>
<text x="363.40" y="649.34" font-size="13.2" font-weight="bold" text-anchor="end" stroke="#000" stroke-width="0.35" textLength="17.5" lengthAdjust="spacingAndGlyphs" >120</text>
<text x="325.40" y="754.10" font-size="13.2" font-weight="bold" text-anchor="middle" stroke="#000" stroke-width="0.35" transform="rotate(-90 325.40 754.10)" textLength="141.3" lengthAdjust="spacingAndGlyphs" >Total edema response (AUC)</text>
<text x="339.40" y="754.10" font-size="13.2" font-weight="bold" text-anchor="middle" stroke="#000" stroke-width="0.35" transform="rotate(-90 339.40 754.10)" textLength="170.6" lengthAdjust="spacingAndGlyphs" xml:space="preserve">as % of the mean  control response</text>
<text x="308.50" y="623.20" font-size="28" font-weight="bold" text-anchor="start" stroke="#000" stroke-width="0.35" >F</text>
<text x="394.50" y="882.82" font-size="13.2" font-weight="bold" text-anchor="middle" stroke="#000" stroke-width="0.35" textLength="18.2" lengthAdjust="spacingAndGlyphs" >IFA</text>
<text x="424.60" y="882.82" font-size="13.2" font-weight="bold" text-anchor="middle" stroke="#000" stroke-width="0.35" textLength="21.9" lengthAdjust="spacingAndGlyphs" >CFA</text>
<text x="454.30" y="882.82" font-size="13.2" font-weight="bold" text-anchor="middle" stroke="#000" stroke-width="0.35" textLength="23.3" lengthAdjust="spacingAndGlyphs" >DEX</text>
<text x="484.30" y="882.82" font-size="13.2" font-weight="bold" text-anchor="middle" stroke="#000" stroke-width="0.35" textLength="11.0" lengthAdjust="spacingAndGlyphs" >50</text>
<text x="514.10" y="882.82" font-size="13.2" font-weight="bold" text-anchor="middle" stroke="#000" stroke-width="0.35" textLength="16.6" lengthAdjust="spacingAndGlyphs" >200</text>
<text x="543.90" y="882.82" font-size="13.2" font-weight="bold" text-anchor="middle" stroke="#000" stroke-width="0.35" textLength="16.6" lengthAdjust="spacingAndGlyphs" >500</text>
<line x1="474.30" y1="893.50" x2="553.30" y2="893.50" stroke="#000" stroke-width="1.25" stroke-linecap="butt"/>
<text x="517.20" y="909.22" font-size="13.2" font-weight="bold" text-anchor="middle" stroke="#000" stroke-width="0.35" textLength="60.5" lengthAdjust="spacingAndGlyphs" >HFE(mg/kg)</text>
<line x1="375.90" y1="920.50" x2="553.80" y2="920.50" stroke="#000" stroke-width="1.25" stroke-linecap="butt"/>
<text x="460.70" y="935.42" font-size="13.2" font-weight="bold" text-anchor="middle" stroke="#000" stroke-width="0.35" textLength="77.5" lengthAdjust="spacingAndGlyphs" >ACUTE PHASE</text>
<text x="593.70" y="882.82" font-size="13.2" font-weight="bold" text-anchor="middle" stroke="#000" stroke-width="0.35" textLength="18.2" lengthAdjust="spacingAndGlyphs" >IFA</text>
<text x="623.80" y="882.82" font-size="13.2" font-weight="bold" text-anchor="middle" stroke="#000" stroke-width="0.35" textLength="21.9" lengthAdjust="spacingAndGlyphs" >CFA</text>
<text x="653.70" y="882.82" font-size="13.2" font-weight="bold" text-anchor="middle" stroke="#000" stroke-width="0.35" textLength="23.3" lengthAdjust="spacingAndGlyphs" >DEX</text>
<text x="683.80" y="882.82" font-size="13.2" font-weight="bold" text-anchor="middle" stroke="#000" stroke-width="0.35" textLength="11.0" lengthAdjust="spacingAndGlyphs" >50</text>
<text x="713.90" y="882.82" font-size="13.2" font-weight="bold" text-anchor="middle" stroke="#000" stroke-width="0.35" textLength="16.6" lengthAdjust="spacingAndGlyphs" >200</text>
<text x="743.90" y="882.82" font-size="13.2" font-weight="bold" text-anchor="middle" stroke="#000" stroke-width="0.35" textLength="16.6" lengthAdjust="spacingAndGlyphs" >500</text>
<line x1="679.60" y1="893.50" x2="753.00" y2="893.50" stroke="#000" stroke-width="1.25" stroke-linecap="butt"/>
<text x="714.60" y="909.22" font-size="13.2" font-weight="bold" text-anchor="middle" stroke="#000" stroke-width="0.35" textLength="59.5" lengthAdjust="spacingAndGlyphs" >HFE(mg/kg)</text>
<line x1="591.00" y1="920.50" x2="756.80" y2="920.50" stroke="#000" stroke-width="1.25" stroke-linecap="butt"/>
<text x="680.50" y="935.42" font-size="13.2" font-weight="bold" text-anchor="middle" stroke="#000" stroke-width="0.35" textLength="126.0" lengthAdjust="spacingAndGlyphs" >POLYARTHRITIS PHASE</text>
<text x="653.70" y="808.20" font-size="13" font-weight="bold" text-anchor="middle" stroke="#000" stroke-width="0.35" textLength="24.0" lengthAdjust="spacingAndGlyphs" >****</text>
<text x="683.80" y="734.50" font-size="13" font-weight="bold" text-anchor="middle" stroke="#000" stroke-width="0.35" textLength="18.0" lengthAdjust="spacingAndGlyphs" >***</text>
<text x="728.50" y="777.20" font-size="13" font-weight="bold" text-anchor="middle" stroke="#000" stroke-width="0.35" textLength="24.0" lengthAdjust="spacingAndGlyphs" >****</text>
<line x1="706.00" y1="776.40" x2="750.70" y2="776.40" stroke="#000" stroke-width="1.0" stroke-linecap="butt"/>
<line x1="395.60" y1="1047.42" x2="395.60" y2="1033.14" stroke="#000" stroke-width="1.1" stroke-linecap="butt"/>
<line x1="390.60" y1="1033.14" x2="400.60" y2="1033.14" stroke="#000" stroke-width="1.2" stroke-linecap="butt"/>
<rect x="385.65" y="1048.07" width="19.90" height="129.43" fill="#a6a6a6" stroke="#000" stroke-width="1.3"/>
<line x1="426.80" y1="1048.20" x2="426.80" y2="1033.66" stroke="#000" stroke-width="1.1" stroke-linecap="butt"/>
<line x1="421.80" y1="1033.66" x2="431.80" y2="1033.66" stroke="#000" stroke-width="1.2" stroke-linecap="butt"/>
<rect x="416.85" y="1048.85" width="19.90" height="128.65" fill="#ffffff" stroke="#000" stroke-width="1.3"/>
<line x1="458.30" y1="1045.71" x2="458.30" y2="1030.91" stroke="#000" stroke-width="1.1" stroke-linecap="butt"/>
<line x1="453.30" y1="1030.91" x2="463.30" y2="1030.91" stroke="#000" stroke-width="1.2" stroke-linecap="butt"/>
<rect x="448.35" y="1046.36" width="19.90" height="131.14" fill="#222222" stroke="#000" stroke-width="1.3"/>
<line x1="489.00" y1="1046.76" x2="489.00" y2="1033.14" stroke="#000" stroke-width="1.1" stroke-linecap="butt"/>
<line x1="484.00" y1="1033.14" x2="494.00" y2="1033.14" stroke="#000" stroke-width="1.2" stroke-linecap="butt"/>
<rect x="479.05" y="1047.41" width="19.90" height="130.09" fill="#000" stroke="#000" stroke-width="1.3"/>
<line x1="520.20" y1="1047.42" x2="520.20" y2="1033.14" stroke="#000" stroke-width="1.1" stroke-linecap="butt"/>
<line x1="515.20" y1="1033.14" x2="525.20" y2="1033.14" stroke="#000" stroke-width="1.2" stroke-linecap="butt"/>
<rect x="510.25" y="1048.07" width="19.90" height="129.43" fill="#000" stroke="#000" stroke-width="1.3"/>
<line x1="551.60" y1="1046.50" x2="551.60" y2="1032.09" stroke="#000" stroke-width="1.1" stroke-linecap="butt"/>
<line x1="546.60" y1="1032.09" x2="556.60" y2="1032.09" stroke="#000" stroke-width="1.2" stroke-linecap="butt"/>
<rect x="541.65" y="1047.15" width="19.90" height="130.35" fill="#000" stroke="#000" stroke-width="1.3"/>
<line x1="603.30" y1="1174.49" x2="603.30" y2="1173.83" stroke="#000" stroke-width="1.1" stroke-linecap="butt"/>
<line x1="598.30" y1="1173.83" x2="608.30" y2="1173.83" stroke="#000" stroke-width="1.2" stroke-linecap="butt"/>
<rect x="593.35" y="1175.14" width="19.90" height="2.36" fill="#a6a6a6" stroke="#000" stroke-width="1.3"/>
<line x1="634.60" y1="1046.50" x2="634.60" y2="1001.57" stroke="#000" stroke-width="1.1" stroke-linecap="butt"/>
<line x1="629.60" y1="1001.57" x2="639.60" y2="1001.57" stroke="#000" stroke-width="1.2" stroke-linecap="butt"/>
<rect x="624.65" y="1047.15" width="19.90" height="130.35" fill="#ffffff" stroke="#000" stroke-width="1.3"/>
<line x1="666.10" y1="1171.08" x2="666.10" y2="1163.35" stroke="#000" stroke-width="1.1" stroke-linecap="butt"/>
<line x1="661.10" y1="1163.35" x2="671.10" y2="1163.35" stroke="#000" stroke-width="1.2" stroke-linecap="butt"/>
<rect x="656.15" y="1171.73" width="19.90" height="5.77" fill="#222222" stroke="#000" stroke-width="1.3"/>
<line x1="697.30" y1="1110.43" x2="697.30" y2="1091.30" stroke="#000" stroke-width="1.1" stroke-linecap="butt"/>
<line x1="692.30" y1="1091.30" x2="702.30" y2="1091.30" stroke="#000" stroke-width="1.2" stroke-linecap="butt"/>
<rect x="687.35" y="1111.08" width="19.90" height="66.42" fill="#000" stroke="#000" stroke-width="1.3"/>
<line x1="728.50" y1="1156.93" x2="728.50" y2="1148.81" stroke="#000" stroke-width="1.1" stroke-linecap="butt"/>
<line x1="723.50" y1="1148.81" x2="733.50" y2="1148.81" stroke="#000" stroke-width="1.2" stroke-linecap="butt"/>
<rect x="718.55" y="1157.58" width="19.90" height="19.92" fill="#000" stroke="#000" stroke-width="1.3"/>
<line x1="759.60" y1="1169.12" x2="759.60" y2="1163.35" stroke="#000" stroke-width="1.1" stroke-linecap="butt"/>
<line x1="754.60" y1="1163.35" x2="764.60" y2="1163.35" stroke="#000" stroke-width="1.2" stroke-linecap="butt"/>
<rect x="749.65" y="1169.77" width="19.90" height="7.73" fill="#000" stroke="#000" stroke-width="1.3"/>
<line x1="369.40" y1="980.00" x2="369.40" y2="1178.50" stroke="#000" stroke-width="2.0" stroke-linecap="butt"/>
<line x1="368.40" y1="1177.50" x2="786.40" y2="1177.50" stroke="#000" stroke-width="2.0" stroke-linecap="butt"/>
<line x1="364.80" y1="1177.50" x2="369.40" y2="1177.50" stroke="#000" stroke-width="2.0" stroke-linecap="butt"/>
<text x="363.40" y="1182.62" font-size="13.2" font-weight="bold" text-anchor="end" stroke="#000" stroke-width="0.35" textLength="5.8" lengthAdjust="spacingAndGlyphs" >0</text>
<line x1="364.80" y1="1112.00" x2="369.40" y2="1112.00" stroke="#000" stroke-width="2.0" stroke-linecap="butt"/>
<text x="363.40" y="1117.12" font-size="13.2" font-weight="bold" text-anchor="end" stroke="#000" stroke-width="0.35" textLength="11.6" lengthAdjust="spacingAndGlyphs" >50</text>
<line x1="364.80" y1="1046.50" x2="369.40" y2="1046.50" stroke="#000" stroke-width="2.0" stroke-linecap="butt"/>
<text x="363.40" y="1051.62" font-size="13.2" font-weight="bold" text-anchor="end" stroke="#000" stroke-width="0.35" textLength="17.5" lengthAdjust="spacingAndGlyphs" >100</text>
<line x1="364.80" y1="981.00" x2="369.40" y2="981.00" stroke="#000" stroke-width="2.0" stroke-linecap="butt"/>
<text x="363.40" y="986.12" font-size="13.2" font-weight="bold" text-anchor="end" stroke="#000" stroke-width="0.35" textLength="17.5" lengthAdjust="spacingAndGlyphs" >150</text>
<text x="325.40" y="1078.50" font-size="13.2" font-weight="bold" text-anchor="middle" stroke="#000" stroke-width="0.35" transform="rotate(-90 325.40 1078.50)" textLength="141.0" lengthAdjust="spacingAndGlyphs" >Total edema response (AUC)</text>
<text x="339.50" y="1078.50" font-size="13.2" font-weight="bold" text-anchor="middle" stroke="#000" stroke-width="0.35" transform="rotate(-90 339.50 1078.50)" textLength="170.6" lengthAdjust="spacingAndGlyphs" xml:space="preserve">as % of the mean  control response</text>
<text x="308.50" y="983.70" font-size="28" font-weight="bold" text-anchor="start" stroke="#000" stroke-width="0.35" >H</text>
<text x="395.60" y="1195.02" font-size="13.2" font-weight="bold" text-anchor="middle" stroke="#000" stroke-width="0.35" textLength="18.2" lengthAdjust="spacingAndGlyphs" >IFA</text>
<text x="426.80" y="1195.02" font-size="13.2" font-weight="bold" text-anchor="middle" stroke="#000" stroke-width="0.35" textLength="21.9" lengthAdjust="spacingAndGlyphs" >CFA</text>
<text x="458.30" y="1195.02" font-size="13.2" font-weight="bold" text-anchor="middle" stroke="#000" stroke-width="0.35" textLength="23.3" lengthAdjust="spacingAndGlyphs" >DEX</text>
<text x="489.00" y="1195.02" font-size="13.2" font-weight="bold" text-anchor="middle" stroke="#000" stroke-width="0.35" textLength="11.0" lengthAdjust="spacingAndGlyphs" >50</text>
<text x="520.20" y="1195.02" font-size="13.2" font-weight="bold" text-anchor="middle" stroke="#000" stroke-width="0.35" textLength="16.6" lengthAdjust="spacingAndGlyphs" >200</text>
<text x="551.60" y="1195.02" font-size="13.2" font-weight="bold" text-anchor="middle" stroke="#000" stroke-width="0.35" textLength="16.6" lengthAdjust="spacingAndGlyphs" >500</text>
<line x1="481.30" y1="1203.40" x2="560.00" y2="1203.40" stroke="#000" stroke-width="1.0" stroke-linecap="butt"/>
<text x="527.00" y="1217.22" font-size="13.2" font-weight="bold" text-anchor="middle" stroke="#000" stroke-width="0.35" textLength="63.4" lengthAdjust="spacingAndGlyphs" >HFE (mg/kg)</text>
<line x1="379.00" y1="1228.50" x2="560.00" y2="1228.50" stroke="#000" stroke-width="0.8" stroke-linecap="butt"/>
<text x="470.60" y="1240.02" font-size="13.2" font-weight="bold" text-anchor="middle" stroke="#000" stroke-width="0.35" textLength="77.2" lengthAdjust="spacingAndGlyphs" >ACUTE PHASE</text>
<text x="603.30" y="1195.02" font-size="13.2" font-weight="bold" text-anchor="middle" stroke="#000" stroke-width="0.35" textLength="18.2" lengthAdjust="spacingAndGlyphs" >IFA</text>
<text x="634.60" y="1195.02" font-size="13.2" font-weight="bold" text-anchor="middle" stroke="#000" stroke-width="0.35" textLength="21.9" lengthAdjust="spacingAndGlyphs" >CFA</text>
<text x="666.10" y="1195.02" font-size="13.2" font-weight="bold" text-anchor="middle" stroke="#000" stroke-width="0.35" textLength="23.3" lengthAdjust="spacingAndGlyphs" >DEX</text>
<text x="697.30" y="1195.02" font-size="13.2" font-weight="bold" text-anchor="middle" stroke="#000" stroke-width="0.35" textLength="11.0" lengthAdjust="spacingAndGlyphs" >50</text>
<text x="728.50" y="1195.02" font-size="13.2" font-weight="bold" text-anchor="middle" stroke="#000" stroke-width="0.35" textLength="16.6" lengthAdjust="spacingAndGlyphs" >200</text>
<text x="759.60" y="1195.02" font-size="13.2" font-weight="bold" text-anchor="middle" stroke="#000" stroke-width="0.35" textLength="16.6" lengthAdjust="spacingAndGlyphs" >500</text>
<line x1="690.60" y1="1203.40" x2="771.30" y2="1203.40" stroke="#000" stroke-width="1.0" stroke-linecap="butt"/>
<text x="732.40" y="1217.22" font-size="13.2" font-weight="bold" text-anchor="middle" stroke="#000" stroke-width="0.35" textLength="64.4" lengthAdjust="spacingAndGlyphs" >HFE (mg/kg)</text>
<line x1="599.20" y1="1226.40" x2="789.00" y2="1226.40" stroke="#000" stroke-width="1.3" stroke-linecap="butt"/>
<text x="701.50" y="1240.02" font-size="13.2" font-weight="bold" text-anchor="middle" stroke="#000" stroke-width="0.35" textLength="126.2" lengthAdjust="spacingAndGlyphs" >POLYARTHRITIS PHASE</text>
<text x="666.10" y="1160.00" font-size="13" font-weight="bold" text-anchor="middle" stroke="#000" stroke-width="0.35" textLength="18.0" lengthAdjust="spacingAndGlyphs" >***</text>
<text x="744.80" y="1137.20" font-size="13" font-weight="bold" text-anchor="middle" stroke="#000" stroke-width="0.35" textLength="18.0" lengthAdjust="spacingAndGlyphs" >***</text>
<line x1="728.40" y1="1136.50" x2="761.20" y2="1136.50" stroke="#000" stroke-width="1.0" stroke-linecap="butt"/>
</svg></body></html>
